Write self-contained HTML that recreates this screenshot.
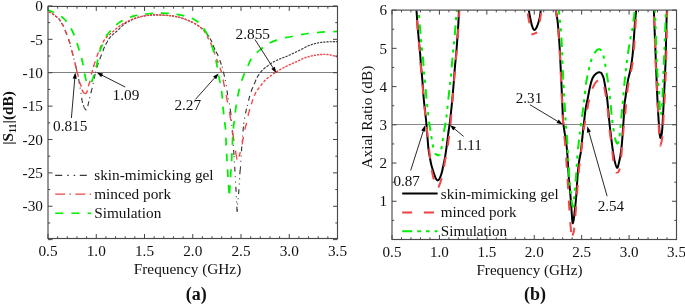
<!DOCTYPE html>
<html><head><meta charset="utf-8"><style>
html,body{margin:0;padding:0;background:#fff;}
svg{display:block;font-family:"Liberation Serif", serif;will-change:transform;}
.tk{stroke:#444;stroke-width:1;}
.ax{fill:none;stroke:#4a4a4a;stroke-width:1.15;}
text{fill:#111;}
</style></head><body>
<svg width="685" height="305" viewBox="0 0 685 305">
<line x1="48.0" y1="72.5" x2="337.5" y2="72.5" stroke="#808080" stroke-width="1"/>
<line x1="392.0" y1="124.5" x2="676.5" y2="124.5" stroke="#888" stroke-width="1"/>
<defs><clipPath id="cl"><rect x="47.9" y="6.4" width="289.4" height="232"/></clipPath><clipPath id="cr"><rect x="392.2" y="10.5" width="284.3" height="228.6"/></clipPath></defs>
<g clip-path="url(#cl)" fill="none" stroke-linejoin="round"><path d="M48.92,11.70L48.94,11.71L49.08,11.78L49.22,11.85L49.36,11.92L49.51,11.99L49.66,12.06L49.81,12.14L49.96,12.22L50.12,12.29L50.27,12.37L50.43,12.46L50.58,12.54L50.74,12.62L50.89,12.70L51.04,12.79L51.05,12.80M52.11,13.44L52.16,13.48L52.30,13.57L52.43,13.66L52.57,13.75L52.70,13.85L52.84,13.95L52.97,14.05L53.11,14.15L53.24,14.26L53.38,14.36L53.51,14.46L53.64,14.57L53.78,14.68L53.91,14.78L54.05,14.89L54.18,14.99L54.21,15.02M55.19,15.82L55.20,15.82L55.33,15.92L55.45,16.02L55.57,16.12L55.68,16.21L55.80,16.30L55.91,16.39L56.03,16.47L56.14,16.55L56.25,16.63L56.35,16.71L56.46,16.78L56.56,16.86L56.67,16.93L56.77,17.00L56.87,17.07L56.97,17.13L57.07,17.20L57.17,17.27L57.27,17.34L57.36,17.41M58.57,18.45L58.60,18.48L58.70,18.59L58.80,18.70L58.90,18.82L59.00,18.94L59.10,19.07L59.20,19.20L59.30,19.34L59.40,19.48L59.50,19.63L59.60,19.78L59.71,19.93L59.81,20.09L59.91,20.24L60.01,20.40L60.11,20.56L60.21,20.72L60.31,20.89L60.41,21.05L60.51,21.21L60.52,21.22M61.53,22.92L61.53,22.93L61.62,23.07L61.70,23.20L61.78,23.33L61.86,23.46L61.94,23.58L62.01,23.70L62.09,23.82L62.16,23.93L62.23,24.05L62.31,24.16L62.38,24.27L62.44,24.38L62.51,24.48L62.58,24.59L62.65,24.70L62.71,24.80L62.77,24.91L62.84,25.01L62.90,25.12L62.96,25.22L63.03,25.33L63.09,25.43L63.15,25.54L63.21,25.65L63.27,25.76L63.33,25.87L63.39,25.99L63.46,26.11L63.52,26.22L63.58,26.35L63.64,26.47L63.67,26.54M64.97,29.87L65.02,30.00L65.09,30.19L65.16,30.38L65.24,30.58L65.32,30.78L65.40,31.00L65.49,31.22L65.58,31.45L65.67,31.69L65.77,31.94L65.87,32.19L65.98,32.45L66.09,32.71L66.20,32.98L66.31,33.25L66.42,33.53L66.54,33.82L66.66,34.11L66.78,34.40L66.82,34.52M68.53,38.98L68.58,39.15L68.69,39.47L68.80,39.80L68.91,40.13L69.01,40.47L69.12,40.81L69.23,41.16L69.33,41.52L69.44,41.88L69.55,42.25L69.65,42.62L69.76,42.99L69.87,43.37L69.97,43.74L69.98,43.77M66.82,34.52L66.90,34.70L67.02,35.00L67.04,35.05M71.86,50.83L71.88,50.91L71.96,51.21L72.04,51.50L72.12,51.79L72.20,52.08L72.27,52.36L72.34,52.63L72.42,52.91L72.49,53.18L72.56,53.44L72.62,53.70L72.69,53.96L72.76,54.22L72.82,54.47L72.89,54.72L72.95,54.97L73.01,55.21L73.08,55.46L73.13,55.67M70.53,45.81L70.59,46.03L70.69,46.41L70.79,46.77M75.12,63.66L75.15,63.77L75.20,63.97L75.25,64.18L75.30,64.39L75.35,64.59L75.40,64.80L75.45,65.01L75.50,65.21L75.55,65.41L75.60,65.61L75.64,65.81L75.69,66.00L75.74,66.20L75.78,66.39L75.83,66.59L75.87,66.78L75.92,66.97L75.96,67.16L76.01,67.35L76.05,67.54L76.10,67.73L76.15,67.92L76.19,68.11L76.24,68.30L76.28,68.50L76.29,68.52M73.88,58.61L73.92,58.77L73.98,59.00L74.03,59.23L74.09,59.46L74.12,59.58M78.66,78.93L78.66,78.96L78.72,79.27L78.77,79.59L78.82,79.91L78.88,80.24L78.93,80.57L78.98,80.91L79.04,81.25L79.09,81.58L79.14,81.92L79.19,82.26L79.25,82.60L79.30,82.94L79.35,83.27L79.40,83.60L79.44,83.87M77.58,73.85L77.59,73.89L77.65,74.11L77.70,74.33L77.76,74.56L77.81,74.78L77.82,74.82M76.35,68.80L76.37,68.88L76.42,69.08L76.46,69.27L76.51,69.47L76.56,69.67L76.58,69.77M81.68,97.94L81.71,98.14L81.76,98.50L81.82,98.85L81.87,99.19L81.92,99.53L81.98,99.86L82.03,100.18L82.09,100.49L82.14,100.78L82.19,101.07L82.25,101.34L82.30,101.60L82.35,101.85L82.41,102.09L82.46,102.32L82.52,102.54L82.57,102.76L82.59,102.85M80.95,92.79L80.97,92.90L81.01,93.21L81.06,93.53L81.09,93.78M80.05,87.67L80.08,87.83L80.11,88.00L80.14,88.16L80.17,88.32L80.20,88.46L80.22,88.61L80.23,88.65M83.38,105.30L83.42,105.41L83.48,105.55L83.53,105.70L83.59,105.84L83.65,105.98L83.71,106.12L83.77,106.26L83.83,106.39L83.88,106.53L83.94,106.66L84.00,106.80L84.06,106.93L84.12,107.07L84.18,107.20L84.24,107.33L84.30,107.45L84.36,107.58L84.42,107.70L84.48,107.82L84.55,107.94L84.61,108.06L84.67,108.17L84.73,108.28L84.79,108.39L84.86,108.50L84.92,108.60L84.98,108.70L85.04,108.80L85.10,108.89L85.17,108.98L85.23,109.06L85.29,109.14L85.35,109.22L85.41,109.30L85.46,109.37L85.52,109.43L85.58,109.50L85.64,109.55L85.69,109.61L85.75,109.66L85.75,109.66M87.85,106.18L87.88,106.04L87.91,105.85L87.94,105.65L87.97,105.46L88.01,105.26L88.04,105.07L88.08,104.87L88.12,104.68L88.16,104.49L88.20,104.30L88.24,104.11L88.28,103.92L88.33,103.73L88.37,103.54L88.42,103.35L88.46,103.15L88.51,102.96L88.55,102.76L88.60,102.57L88.64,102.37L88.69,102.17L88.74,101.96L88.79,101.76L88.84,101.56L88.89,101.35L88.90,101.29M85.75,109.66L85.80,109.70L85.85,109.74L85.91,109.78L85.96,109.81L86.01,109.85L86.06,109.88L86.11,109.90L86.16,109.93L86.21,109.95L86.26,109.97L86.31,109.98L86.36,109.99L86.41,110.00L86.46,110.00L86.50,110.00L86.54,110.00M90.87,93.19L90.92,93.01L90.99,92.72L91.06,92.43L91.13,92.15L91.20,91.87L91.26,91.60L91.33,91.32L91.40,91.06L91.46,90.79L91.52,90.54L91.58,90.28L91.64,90.04L91.70,89.80L91.76,89.57L91.81,89.34L91.86,89.12L91.92,88.91L91.97,88.70L92.02,88.49L92.06,88.33M89.64,98.24L89.64,98.24L89.70,98.00L89.76,97.76L89.82,97.50L89.88,97.27M94.14,78.73L94.18,78.53L94.23,78.31L94.27,78.08L94.32,77.86L94.36,77.64L94.41,77.42L94.45,77.21L94.50,77.00L94.54,76.80L94.59,76.60L94.63,76.40L94.67,76.21L94.71,76.02L94.76,75.83L94.80,75.65L94.84,75.47L94.88,75.29L94.91,75.12L94.95,74.94L94.99,74.77L95.03,74.60L95.07,74.43L95.11,74.26L95.15,74.08L95.19,73.91L95.21,73.84M93.12,83.83L93.15,83.68L93.19,83.47L93.24,83.24L93.29,83.02L93.32,82.85M92.06,88.33L92.07,88.29L92.12,88.09L92.16,87.91M96.85,67.63L96.85,67.61L96.92,67.37L96.99,67.13L97.06,66.89L97.13,66.65L97.21,66.41L97.28,66.16L97.35,65.92L97.42,65.68L97.50,65.44L97.57,65.21L97.65,64.97L97.72,64.73L97.80,64.50L97.88,64.27L97.95,64.04L98.03,63.81L98.11,63.58L98.19,63.36L98.27,63.13L98.35,62.91L98.36,62.86M95.50,72.65L95.54,72.49L95.59,72.30L95.64,72.10L95.69,71.91L95.75,71.71L95.75,71.68M99.76,59.18L99.82,59.02L99.91,58.78L100.01,58.53L100.10,58.28L100.20,58.02L100.30,57.76L100.40,57.50L100.50,57.23L100.60,56.96L100.71,56.67L100.82,56.39L100.93,56.09L101.04,55.79L101.15,55.49L101.26,55.18L101.38,54.88L101.49,54.56L101.52,54.49M102.74,51.25L102.79,51.11L102.91,50.81L103.02,50.51L103.14,50.22L103.25,49.93L103.37,49.65L103.48,49.38L103.59,49.11L103.69,48.85L103.80,48.60L103.90,48.36L104.01,48.12L104.11,47.88L104.21,47.66L104.31,47.43L104.41,47.21L104.51,47.00L104.61,46.79L104.67,46.65M105.63,44.70L105.65,44.66L105.74,44.48L105.84,44.30L105.93,44.12L106.03,43.95L106.12,43.77L106.22,43.59L106.31,43.41L106.41,43.24L106.50,43.06L106.60,42.88L106.70,42.70L106.80,42.52L106.90,42.34L106.99,42.17L107.09,41.99L107.18,41.81L107.28,41.64L107.37,41.47L107.47,41.30L107.56,41.12L107.66,40.96L107.75,40.79L107.83,40.66M108.71,39.19L108.73,39.16L108.83,39.01L108.94,38.85L109.04,38.70L109.15,38.55L109.25,38.40L109.36,38.24L109.47,38.10L109.59,37.95L109.70,37.80L109.82,37.65L109.93,37.51L110.05,37.37L110.17,37.23L110.30,37.09L110.42,36.95L110.55,36.81L110.67,36.68L110.80,36.54L110.93,36.41L110.98,36.36M111.97,35.40L111.99,35.38L112.12,35.25L112.26,35.13L112.39,35.00L112.53,34.88L112.66,34.75L112.80,34.63L112.93,34.51L113.07,34.39L113.20,34.27L113.34,34.14L113.47,34.02L113.60,33.90L113.73,33.78L113.87,33.66L114.00,33.54L114.13,33.42L114.13,33.42M115.14,32.57L115.22,32.51L115.36,32.40L115.49,32.29L115.63,32.17L115.77,32.06L115.90,31.95L116.04,31.84L116.17,31.73L116.31,31.62L116.44,31.51L116.57,31.40L116.71,31.29L116.84,31.18L116.97,31.07L117.10,30.95L117.22,30.84L117.29,30.78M118.33,29.78L118.42,29.69L118.53,29.57L118.65,29.45L118.76,29.34L118.87,29.22L118.97,29.10L119.08,28.98L119.19,28.87L119.30,28.75L119.41,28.63L119.52,28.52L119.63,28.40L119.73,28.28L119.84,28.16L119.95,28.05L120.07,27.93L120.18,27.81L120.29,27.70L120.41,27.58L120.44,27.54M121.43,26.60L121.50,26.54L121.62,26.42L121.75,26.30L121.87,26.19L122.00,26.07L122.12,25.95L122.25,25.83L122.38,25.72L122.51,25.60L122.64,25.48L122.77,25.37L122.90,25.25L123.03,25.13L123.17,25.02L123.30,24.90L123.43,24.79L123.57,24.68L123.60,24.66M124.56,23.91L124.56,23.91L124.70,23.81L124.85,23.70L125.00,23.60L125.15,23.50L125.31,23.40L125.46,23.30L125.62,23.20L125.78,23.10L125.94,23.01L126.11,22.91L126.27,22.82L126.44,22.73L126.61,22.63L126.75,22.56M127.75,22.04L127.81,22.00L127.99,21.92L128.16,21.83L128.33,21.74L128.51,21.66L128.68,21.57L128.85,21.49L129.02,21.40L129.18,21.32L129.35,21.23L129.52,21.15L129.68,21.07L129.84,20.98L129.90,20.95M130.91,20.41L130.92,20.40L131.07,20.32L131.22,20.24L131.37,20.16L131.52,20.08L131.67,20.00L131.81,19.92L131.96,19.84L132.10,19.76L132.25,19.68L132.40,19.60L132.54,19.53L132.69,19.45L132.83,19.37L132.98,19.30L133.06,19.26M134.04,18.79L134.19,18.73L134.34,18.67L134.50,18.60L134.66,18.54L134.82,18.47L134.98,18.41L135.14,18.35L135.31,18.29L135.47,18.23L135.64,18.17L135.80,18.11L135.97,18.05L136.14,18.00L136.21,17.97M137.22,17.65L137.32,17.62L137.49,17.57L137.66,17.52L137.83,17.47L138.00,17.42L138.17,17.37L138.34,17.32L138.50,17.28L138.67,17.23L138.84,17.18L139.01,17.14L139.17,17.09L139.34,17.05L139.37,17.04M140.37,16.76L140.46,16.74L140.61,16.70L140.77,16.66L140.93,16.62L141.08,16.58L141.24,16.54L141.39,16.50L141.55,16.47L141.70,16.43L141.86,16.39L142.01,16.36L142.17,16.32L142.32,16.29L142.48,16.25L142.52,16.24M143.52,16.04L143.62,16.02L143.78,15.99L143.95,15.96L144.13,15.93L144.30,15.90L144.48,15.87L144.66,15.84L144.84,15.81L145.02,15.78L145.21,15.76L145.39,15.73L145.58,15.70L145.67,15.69M146.68,15.56L146.74,15.55L146.94,15.52L147.14,15.50L147.33,15.48L147.53,15.45L147.73,15.43L147.92,15.41L148.12,15.39L148.31,15.37L148.51,15.35L148.70,15.33L148.83,15.31M149.84,15.22L150.00,15.20L150.18,15.18L150.35,15.17L150.53,15.15L150.70,15.14L150.87,15.12L151.04,15.11L151.21,15.09L151.38,15.08L151.55,15.07L151.72,15.06L151.88,15.04L151.98,15.04M152.99,14.97L153.03,14.97L153.20,14.96L153.36,14.96L153.52,14.95L153.68,14.94L153.85,14.93L154.01,14.93L154.17,14.92L154.34,14.92L154.50,14.91L154.67,14.91L154.83,14.90L155.00,14.90L155.14,14.90M156.15,14.89L156.17,14.89L156.33,14.89L156.50,14.89L156.67,14.90L156.83,14.90L157.00,14.90L157.17,14.90L157.33,14.91L157.50,14.91L157.67,14.92L157.83,14.92L158.00,14.93L158.17,14.93L158.29,14.94M159.30,14.97L159.33,14.97L159.50,14.98L159.67,14.99L159.83,14.99L160.00,15.00L160.17,15.01L160.33,15.01L160.50,15.02L160.66,15.03L160.83,15.04L160.99,15.05L161.16,15.05L161.32,15.06L161.44,15.07M162.45,15.13L162.47,15.13L162.63,15.14L162.80,15.15L162.96,15.16L163.13,15.17L163.30,15.19L163.46,15.20L163.63,15.21L163.80,15.22L163.97,15.23L164.14,15.24L164.31,15.25L164.48,15.27L164.60,15.27M165.61,15.34L165.72,15.35L165.90,15.36L166.08,15.37L166.27,15.38L166.46,15.39L166.64,15.40L166.83,15.41L167.02,15.43L167.21,15.44L167.40,15.45L167.59,15.46L167.75,15.47M168.76,15.54L168.91,15.55L169.09,15.57L169.27,15.58L169.46,15.60L169.64,15.61L169.81,15.63L169.99,15.65L170.16,15.66L170.33,15.68L170.50,15.70L170.67,15.72L170.83,15.74L170.91,15.75M171.92,15.88L172.07,15.90L172.22,15.92L172.36,15.94L172.51,15.96L172.65,15.98L172.80,16.01L172.94,16.03L173.09,16.05L173.23,16.08L173.38,16.10L173.52,16.13L173.67,16.15L173.81,16.18L173.96,16.20L174.06,16.22M175.07,16.41L175.15,16.43L175.31,16.46L175.46,16.49L175.62,16.53L175.78,16.56L175.93,16.59L176.09,16.63L176.25,16.66L176.41,16.69L176.57,16.73L176.73,16.77L176.88,16.80L177.04,16.84L177.20,16.88L177.21,16.88M178.23,17.12L178.31,17.14L178.47,17.18L178.63,17.22L178.78,17.26L178.94,17.30L179.09,17.34L179.25,17.38L179.40,17.42L179.55,17.46L179.70,17.50L179.85,17.54L180.00,17.58L180.14,17.62L180.29,17.66L180.37,17.68M181.38,17.96L181.42,17.98L181.56,18.02L181.70,18.06L181.84,18.10L181.98,18.14L182.12,18.18L182.26,18.23L182.40,18.27L182.54,18.31L182.69,18.36L182.83,18.41L182.97,18.45L183.11,18.50L183.26,18.55L183.40,18.60L183.52,18.63M184.54,18.99L184.62,19.02L184.78,19.08L184.94,19.14L185.10,19.20L185.27,19.27L185.43,19.33L185.59,19.39L185.76,19.46L185.92,19.52L186.09,19.59L186.25,19.65L186.42,19.72L186.58,19.79L186.68,19.82M187.69,20.24L187.72,20.25L187.88,20.32L188.04,20.38L188.20,20.45L188.35,20.51L188.50,20.57L188.65,20.64L188.80,20.70L188.95,20.76L189.09,20.82L189.23,20.88L189.37,20.94L189.51,21.00L189.65,21.06L189.79,21.12L189.83,21.14M190.85,21.58L190.86,21.58L190.99,21.64L191.12,21.70L191.25,21.76L191.37,21.81L191.50,21.87L191.63,21.93L191.76,21.99L191.89,22.05L192.02,22.12L192.15,22.18L192.28,22.24L192.41,22.30L192.54,22.37L192.67,22.43L192.80,22.50L192.93,22.57L192.98,22.59M194.01,23.13L194.13,23.20L194.26,23.27L194.40,23.35L194.53,23.42L194.66,23.49L194.79,23.57L194.93,23.64L195.06,23.72L195.19,23.79L195.32,23.87L195.45,23.94L195.58,24.02L195.71,24.10L195.83,24.17L195.96,24.25L196.09,24.32L196.14,24.35M197.17,25.00L197.17,25.00L197.28,25.07L197.40,25.14L197.51,25.22L197.62,25.29L197.73,25.36L197.84,25.43L197.95,25.51L198.05,25.58L198.16,25.65L198.27,25.73L198.38,25.80L198.48,25.87L198.59,25.95L198.69,26.02L198.80,26.10L198.91,26.18L199.01,26.26L199.12,26.33L199.23,26.41L199.29,26.46M200.32,27.25L200.34,27.27L200.46,27.36L200.57,27.45L200.69,27.54L200.81,27.63L200.92,27.72L201.04,27.82L201.16,27.91L201.28,28.01L201.40,28.10L201.51,28.20L201.63,28.30L201.75,28.39L201.87,28.49L201.99,28.59L202.10,28.69L202.22,28.80L202.34,28.90L202.45,28.99M203.53,30.03L203.61,30.12L203.72,30.24L203.84,30.35L203.95,30.47L204.06,30.59L204.17,30.72L204.28,30.84L204.38,30.96L204.49,31.09L204.60,31.21L204.71,31.34L204.82,31.47L204.92,31.60L205.03,31.73L205.14,31.86L205.25,32.00L205.35,32.13L205.46,32.27L205.57,32.40L205.60,32.44M206.60,33.74L206.68,33.85L206.80,34.00L206.92,34.15L207.03,34.30L207.15,34.45L207.27,34.60L207.39,34.75L207.51,34.90L207.63,35.05L207.75,35.20L207.87,35.35L208.00,35.50L208.12,35.65L208.24,35.81L208.36,35.96L208.49,36.12L208.61,36.28L208.74,36.44L208.75,36.47M209.95,38.22L209.99,38.30L210.12,38.52L210.25,38.74L210.37,38.97L210.50,39.20L210.63,39.44L210.75,39.70L210.88,39.96L211.01,40.23L211.14,40.50L211.27,40.79L211.40,41.08L211.53,41.38L211.66,41.68L211.79,41.99L211.91,42.28M213.05,45.11L213.09,45.21L213.22,45.54L213.35,45.86L213.49,46.18L213.62,46.49L213.75,46.81L213.88,47.12L214.01,47.42L214.14,47.72L214.27,48.01L214.40,48.30L214.53,48.58L214.66,48.86L214.79,49.13L214.92,49.40L215.06,49.67L215.06,49.68M216.01,51.52L216.12,51.74L216.25,51.99L216.39,52.24L216.52,52.50L216.65,52.75L216.78,53.00L216.91,53.26L217.04,53.51L217.17,53.77L217.30,54.03L217.43,54.29L217.56,54.56L217.68,54.82L217.81,55.09L217.93,55.36L218.06,55.64L218.18,55.92L218.22,56.00M219.75,59.98L219.75,59.98L219.87,60.31L219.98,60.65L220.10,60.98L220.21,61.30L220.33,61.63L220.44,61.95L220.55,62.27L220.66,62.59L220.76,62.90L220.86,63.21L220.97,63.51L221.06,63.80L221.16,64.09L221.25,64.37L221.35,64.64L221.37,64.71M223.39,71.72L223.40,71.73L223.48,72.06L223.56,72.41L223.64,72.77L223.73,73.13L223.82,73.51L223.91,73.89L224.00,74.28L224.09,74.68L224.18,75.08L224.28,75.49L224.37,75.90L224.46,76.32L224.52,76.59M222.04,66.70L222.05,66.73L222.10,66.88L222.15,67.02L222.19,67.16L222.24,67.29L222.28,67.41L222.32,67.54L222.35,67.65M226.93,90.33L226.94,90.42L227.01,90.87L227.07,91.32L227.13,91.76L227.20,92.20L227.26,92.62L227.32,93.05L227.39,93.46L227.45,93.87L227.51,94.27L227.57,94.65L227.64,95.03L227.68,95.27M226.18,85.18L226.21,85.36L226.28,85.82L226.33,86.17M225.27,80.06L225.29,80.18L225.37,80.61L225.46,81.04L225.46,81.05M230.20,108.61L230.21,108.73L230.24,108.95L230.27,109.18L230.30,109.40L230.33,109.63L230.35,109.85L230.38,110.08L230.41,110.31L230.44,110.54L230.47,110.77L230.50,111.00L230.53,111.23L230.56,111.45L230.59,111.67L230.62,111.89L230.64,112.10L230.67,112.30L230.70,112.51L230.72,112.71L230.75,112.91L230.77,113.11L230.80,113.31L230.82,113.51L230.83,113.57M229.40,103.47L229.40,103.48L229.45,103.74L229.50,104.00L229.55,104.26L229.58,104.46M228.29,98.39L228.34,98.66L228.41,98.95L228.47,99.24L228.50,99.37M233.61,150.03L233.62,150.14L233.64,150.40L233.65,150.66L233.67,150.92L233.69,151.18L233.71,151.44L233.73,151.69L233.75,151.95L233.76,152.20L233.78,152.45L233.80,152.70L233.82,152.95L233.84,153.18L233.85,153.42L233.87,153.64L233.89,153.86L233.91,154.07L233.92,154.28L233.94,154.48L233.96,154.68L233.97,154.88L233.99,155.02M233.26,144.84L233.27,145.05L233.30,145.39L233.32,145.73L233.33,145.84M232.90,139.66L232.93,139.99L232.96,140.42L232.97,140.65M232.23,130.08L232.24,130.12L232.27,130.56L232.30,131.00L232.33,131.44L232.36,131.88L232.40,132.32L232.43,132.77L232.46,133.22L232.49,133.67L232.52,134.12L232.55,134.58L232.59,135.04L232.59,135.07M231.85,124.89L231.86,125.05L231.90,125.51L231.93,125.89M231.45,119.71L231.46,119.82L231.49,120.22L231.52,120.62L231.53,120.71M230.83,113.57L230.85,113.71L230.87,113.92L230.90,114.12L230.93,114.34L230.95,114.55L230.98,114.77L231.00,114.99L231.02,115.13M236.86,206.64L236.87,206.69L236.87,206.96L236.88,207.25L236.89,207.54L236.90,207.83L236.91,208.12L236.92,208.40L236.93,208.69L236.94,208.97L236.95,209.24L236.96,209.51L236.97,209.76L236.98,210.01L236.99,210.24L237.00,210.46L237.01,210.66L237.02,210.84L237.03,211.01L237.04,211.15L237.05,211.27L237.06,211.37L237.07,211.44L237.09,211.48L237.10,211.50L237.11,211.49L237.13,211.45L237.14,211.39M236.58,201.44L236.59,201.60L236.60,201.76L236.61,201.92L236.62,202.07L236.63,202.23L236.64,202.38L236.64,202.44M236.34,196.25L236.35,196.32L236.36,196.56L236.37,196.81L236.38,197.05L236.38,197.25M235.78,186.67L235.78,186.75L235.80,187.00L235.81,187.25L235.83,187.49L235.84,187.72L235.86,187.94L235.87,188.16L235.89,188.38L235.90,188.58L235.92,188.79L235.93,188.99L235.94,189.19L235.96,189.38L235.97,189.57L235.99,189.76L236.00,189.94L236.01,190.12L236.03,190.31L236.04,190.49L236.05,190.67L236.06,190.85L236.08,191.04L236.09,191.22L236.10,191.41L236.12,191.59L236.12,191.66M235.49,181.48L235.49,181.50L235.50,181.82L235.52,182.13L235.54,182.44L235.54,182.47M235.21,176.28L235.22,176.38L235.23,176.71L235.25,177.04L235.26,177.28M234.73,166.69L234.73,166.73L234.75,167.05L234.77,167.37L234.78,167.68L234.80,168.00L234.82,168.32L234.83,168.64L234.85,168.96L234.87,169.29L234.88,169.62L234.90,169.95L234.92,170.29L234.93,170.62L234.95,170.96L234.97,171.30L234.98,171.64L234.99,171.69M234.45,161.50L234.47,161.76L234.48,162.06L234.50,162.36L234.51,162.50M234.10,156.31L234.10,156.40L234.12,156.59L234.14,156.79L234.15,156.99L234.17,157.19L234.18,157.31M239.83,174.16L239.84,173.93L239.86,173.65L239.88,173.37L239.90,173.10L239.92,172.84L239.94,172.58L239.96,172.33L239.98,172.08L240.01,171.84L240.03,171.61L240.05,171.38L240.07,171.15L240.10,170.93L240.12,170.71L240.15,170.49L240.17,170.28L240.19,170.06L240.22,169.84L240.24,169.63L240.27,169.41L240.29,169.19L240.29,169.18M239.54,179.35L239.54,179.34L239.56,179.04L239.57,178.73L239.59,178.42L239.59,178.35M239.25,184.54L239.26,184.47L239.27,184.20L239.29,183.93L239.30,183.66L239.31,183.54M238.55,194.11L238.56,194.06L238.58,193.79L238.61,193.52L238.63,193.25L238.65,192.98L238.68,192.70L238.70,192.43L238.73,192.16L238.75,191.89L238.77,191.62L238.79,191.34L238.82,191.07L238.84,190.80L238.86,190.54L238.88,190.27L238.90,190.00L238.92,189.73L238.94,189.47L238.96,189.20L238.96,189.13M238.09,199.29L238.09,199.23L238.11,198.99L238.14,198.74L238.16,198.50L238.17,198.30M237.64,204.47L237.66,204.32L237.67,204.10L237.69,203.87L237.71,203.65L237.73,203.48M237.14,211.39L237.14,211.38L237.16,211.29L237.17,211.17L237.19,211.04L237.20,210.89L237.22,210.71L237.23,210.52L237.25,210.31L237.26,210.09L237.28,209.86L237.30,209.61L237.31,209.36L237.33,209.09L237.33,209.06M242.99,131.43L243.00,131.41L243.02,131.09L243.05,130.78L243.08,130.46L243.10,130.15L243.13,129.85L243.16,129.54L243.19,129.24L243.21,128.94L243.24,128.65L243.27,128.36L243.29,128.07L243.32,127.79L243.34,127.51L243.37,127.24L243.40,126.97L243.42,126.71L243.45,126.45L243.45,126.45M242.56,136.61L242.56,136.56L242.59,136.19L242.62,135.81L242.64,135.61M242.15,141.79L242.16,141.62L242.19,141.23L242.22,140.84L242.22,140.80M241.44,151.37L241.44,151.32L241.46,151.00L241.49,150.67L241.51,150.35L241.53,150.03L241.55,149.70L241.58,149.38L241.60,149.05L241.62,148.72L241.65,148.40L241.67,148.07L241.70,147.74L241.72,147.40L241.75,147.07L241.77,146.73L241.80,146.39L241.80,146.38M241.11,156.56L241.12,156.44L241.14,156.07L241.16,155.71L241.17,155.56M240.84,161.75L240.86,161.39L240.88,161.01L240.89,160.75M240.29,169.18L240.32,168.96L240.34,168.74L240.37,168.51L240.39,168.28L240.42,168.04L240.44,167.80L240.46,167.55L240.49,167.29L240.51,167.03L240.53,166.76L240.56,166.48L240.57,166.34M245.54,113.47L245.56,113.38L245.60,113.19L245.64,113.00L245.67,112.81L245.71,112.62L245.75,112.42L245.79,112.23L245.83,112.04L245.87,111.85L245.91,111.66L245.95,111.47L245.99,111.28L246.03,111.08L246.07,110.89L246.11,110.70L246.15,110.51L246.20,110.32L246.24,110.13L246.28,109.94L246.32,109.75L246.37,109.56L246.41,109.37L246.46,109.19L246.50,109.00L246.55,108.81L246.59,108.63L246.60,108.59M244.58,118.58L244.60,118.43L244.64,118.24L244.67,118.06L244.70,117.88L244.74,117.69L244.75,117.60M243.75,123.72L243.76,123.63L243.79,123.46L243.81,123.30L243.83,123.14L243.85,122.98L243.87,122.83L243.89,122.73M248.60,100.77L248.63,100.67L248.67,100.46L248.71,100.26L248.75,100.05L248.80,99.85L248.84,99.65L248.88,99.45L248.92,99.25L248.97,99.05L249.01,98.86L249.05,98.67L249.09,98.48L249.13,98.30L249.17,98.12L249.22,97.94L249.26,97.77L249.30,97.60L249.34,97.44L249.38,97.27L249.42,97.12L249.46,96.96L249.50,96.81L249.54,96.66L249.58,96.51L249.62,96.37L249.66,96.23L249.70,96.09L249.74,95.95L249.76,95.91M247.37,105.82L247.40,105.72L247.45,105.54L247.50,105.36L247.56,105.17L247.61,104.99L247.64,104.86M251.07,91.74L251.09,91.69L251.13,91.56L251.17,91.44L251.22,91.31L251.26,91.18L251.30,91.06L251.35,90.93L251.39,90.81L251.44,90.68L251.48,90.56L251.53,90.44L251.57,90.31L251.62,90.19L251.66,90.07L251.71,89.94L251.75,89.82L251.80,89.70L251.85,89.58L251.89,89.46L251.94,89.34L251.99,89.22L252.04,89.10L252.09,88.98L252.14,88.86L252.19,88.74L252.24,88.62L252.29,88.50L252.34,88.39L252.39,88.27L252.44,88.15L252.49,88.04L252.54,87.92L252.60,87.80L252.65,87.69L252.70,87.57L252.75,87.46L252.80,87.34L252.85,87.23L252.90,87.11L252.91,87.09M254.14,84.22L254.18,84.12L254.23,84.01L254.28,83.91L254.32,83.80L254.37,83.69L254.42,83.58L254.46,83.47L254.51,83.35L254.56,83.24L254.60,83.13L254.65,83.01L254.70,82.90L254.75,82.78L254.80,82.67L254.85,82.55L254.89,82.43L254.94,82.31L254.99,82.19L255.04,82.07L255.09,81.95L255.14,81.82L255.19,81.70L255.24,81.58L255.29,81.45L255.34,81.33L255.39,81.21L255.44,81.08L255.49,80.96L255.54,80.83L255.60,80.71L255.65,80.59L255.70,80.47L255.75,80.35L255.80,80.22L255.85,80.11L255.90,79.99L255.95,79.87L256.00,79.75L256.05,79.64L256.06,79.60M256.93,77.74L256.97,77.66L257.02,77.56L257.06,77.46L257.11,77.37L257.16,77.27L257.21,77.17L257.26,77.08L257.32,76.98L257.37,76.88L257.42,76.79L257.47,76.69L257.53,76.59L257.59,76.50L257.64,76.40L257.70,76.30L257.76,76.20L257.82,76.10L257.88,76.01L257.94,75.91L258.00,75.81L258.06,75.71L258.13,75.61L258.19,75.52L258.25,75.42L258.32,75.32L258.38,75.23L258.45,75.13L258.52,75.03L258.58,74.93L258.65,74.84L258.72,74.74L258.79,74.64L258.85,74.55L258.92,74.45L258.99,74.36L259.06,74.26L259.13,74.16L259.20,74.07L259.22,74.05M260.17,72.78L260.20,72.74L260.27,72.65L260.35,72.55L260.42,72.46L260.49,72.37L260.56,72.27L260.64,72.18L260.71,72.09L260.79,71.99L260.86,71.90L260.94,71.81L261.02,71.72L261.09,71.62L261.17,71.53L261.25,71.44L261.33,71.34L261.41,71.25L261.49,71.16L261.57,71.07L261.66,70.97L261.74,70.88L261.83,70.79L261.91,70.69L262.00,70.60L262.09,70.51L262.18,70.41L262.27,70.32L262.36,70.22L262.37,70.21M263.34,69.27L263.35,69.25L263.46,69.16L263.56,69.06L263.66,68.96L263.77,68.87L263.87,68.78L263.97,68.68L264.08,68.59L264.18,68.50L264.29,68.41L264.39,68.32L264.49,68.23L264.59,68.14L264.70,68.05L264.80,67.97L264.90,67.88L265.00,67.80L265.10,67.72L265.20,67.64L265.30,67.57L265.39,67.49L265.49,67.42L265.53,67.39M266.54,66.69L266.64,66.63L266.74,66.56L266.83,66.50L266.93,66.43L267.03,66.37L267.14,66.30L267.24,66.23L267.34,66.16L267.45,66.09L267.55,66.01L267.66,65.94L267.77,65.86L267.89,65.78L268.00,65.70L268.11,65.62L268.23,65.53L268.34,65.44L268.46,65.35L268.57,65.26L268.68,65.18M269.66,64.39L269.77,64.31L269.89,64.21L270.02,64.11L270.15,64.01L270.28,63.90L270.42,63.80L270.55,63.70L270.69,63.60L270.83,63.50L270.98,63.40L271.12,63.30L271.27,63.20L271.42,63.10L271.58,63.00L271.74,62.90L271.83,62.84M272.83,62.27L272.97,62.19L273.16,62.09L273.36,61.98L273.55,61.88L273.76,61.77L273.96,61.66L274.16,61.56L274.37,61.45L274.58,61.35L274.79,61.24L274.99,61.14M275.99,60.65L276.04,60.63L276.25,60.53L276.45,60.43L276.65,60.34L276.85,60.24L277.05,60.15L277.24,60.06L277.43,59.97L277.62,59.88L277.80,59.80L277.98,59.72L278.14,59.64M279.14,59.21L279.18,59.19L279.34,59.12L279.50,59.06L279.67,58.99L279.83,58.92L279.99,58.86L280.15,58.79L280.31,58.73L280.46,58.67L280.62,58.61L280.78,58.54L280.94,58.48L281.10,58.42L281.25,58.36L281.30,58.34M282.30,57.96L282.37,57.93L282.54,57.86L282.70,57.80L282.87,57.74L283.03,57.67L283.20,57.61L283.36,57.54L283.53,57.48L283.70,57.42L283.86,57.36L284.03,57.29L284.20,57.23L284.37,57.17L284.45,57.14M285.46,56.77L285.54,56.74L285.71,56.68L285.88,56.61L286.04,56.55L286.21,56.49L286.38,56.43L286.54,56.36L286.71,56.30L286.88,56.23L287.04,56.17L287.21,56.10L287.37,56.04L287.54,55.97L287.60,55.94M288.62,55.50L288.67,55.48L288.83,55.41L288.99,55.34L289.15,55.27L289.31,55.20L289.47,55.12L289.62,55.05L289.78,54.98L289.94,54.90L290.10,54.83L290.26,54.76L290.42,54.68L290.58,54.61L290.73,54.53L290.76,54.52M291.77,54.05L291.85,54.01L292.01,53.93L292.17,53.85L292.34,53.78L292.50,53.70L292.66,53.62L292.83,53.55L292.99,53.47L293.16,53.39L293.32,53.31L293.49,53.23L293.65,53.16L293.82,53.08L293.91,53.03M294.92,52.55L294.99,52.52L295.16,52.44L295.32,52.36L295.49,52.28L295.66,52.20L295.83,52.11L295.99,52.03L296.16,51.95L296.33,51.87L296.50,51.79L296.66,51.71L296.83,51.63L297.00,51.54L297.07,51.51M298.08,51.02L298.16,50.97L298.33,50.89L298.50,50.81L298.66,50.73L298.83,50.65L298.99,50.57L299.16,50.49L299.32,50.40L299.49,50.32L299.65,50.24L299.82,50.16L299.98,50.07L300.15,49.99L300.22,49.96M301.23,49.45L301.31,49.41L301.48,49.32L301.65,49.24L301.82,49.15L301.99,49.06L302.16,48.98L302.33,48.89L302.50,48.80L302.67,48.71L302.84,48.62L303.02,48.53L303.19,48.44L303.36,48.34L303.37,48.33M304.38,47.77L304.40,47.76L304.57,47.66L304.75,47.56L304.92,47.47L305.10,47.37L305.28,47.27L305.45,47.17L305.63,47.08L305.81,46.98L305.99,46.89L306.16,46.79L306.34,46.70L306.52,46.60L306.53,46.60M307.52,46.13L307.62,46.08L307.80,46.00L307.99,45.92L308.17,45.84L308.36,45.76L308.55,45.69L308.74,45.61L308.92,45.54L309.11,45.47L309.31,45.39L309.50,45.32L309.68,45.25M310.68,44.90L310.85,44.85L311.05,44.78L311.24,44.72L311.44,44.66L311.63,44.59L311.83,44.53L312.03,44.47L312.22,44.41L312.42,44.35L312.62,44.29L312.81,44.23L312.84,44.22M313.84,43.93L313.99,43.89L314.19,43.83L314.39,43.78L314.59,43.72L314.79,43.67L314.99,43.62L315.19,43.56L315.39,43.51L315.59,43.46L315.79,43.41L315.99,43.36M316.99,43.12L317.00,43.12L317.20,43.07L317.40,43.03L317.60,42.99L317.80,42.94L318.00,42.90L318.20,42.86L318.40,42.82L318.60,42.78L318.80,42.74L319.00,42.70L319.14,42.68M320.15,42.51L320.19,42.51L320.39,42.48L320.59,42.45L320.79,42.42L320.98,42.40L321.18,42.37L321.38,42.35L321.57,42.33L321.77,42.31L321.97,42.29L322.16,42.27L322.30,42.26M323.31,42.17L323.34,42.16L323.54,42.15L323.73,42.13L323.93,42.12L324.13,42.10L324.32,42.09L324.52,42.07L324.71,42.06L324.91,42.04L325.11,42.03L325.30,42.01L325.45,42.00M326.46,41.93L326.48,41.93L326.68,41.92L326.87,41.90L327.07,41.89L327.26,41.88L327.46,41.87L327.65,41.86L327.85,41.84L328.05,41.83L328.24,41.82L328.44,41.81L328.61,41.80M329.61,41.76L329.62,41.76L329.81,41.75L330.01,41.74L330.21,41.74L330.41,41.73L330.60,41.72L330.80,41.72L331.00,41.71L331.20,41.71L331.40,41.70L331.60,41.70L331.76,41.69M332.77,41.68L332.94,41.68L333.17,41.68L333.41,41.68L333.64,41.68L333.88,41.68L334.12,41.68L334.35,41.68L334.59,41.68L334.82,41.68L334.91,41.68M335.74,41.69L335.91,41.69L336.11,41.69L336.31,41.69L336.49,41.69L336.67,41.70L336.83,41.70L336.99,41.70L337.14,41.70L337.27,41.70L337.39,41.70L337.50,41.70" stroke="#363636" stroke-width="1.15" stroke-linecap="butt"/><path d="M49.01,11.74L49.08,11.78L49.22,11.85L49.36,11.92L49.51,11.99L49.66,12.06L49.81,12.14L49.96,12.22L50.12,12.29L50.27,12.37L50.43,12.46L50.58,12.54L50.74,12.62L50.89,12.70L51.04,12.79L51.05,12.80M52.28,13.55L52.30,13.57L52.43,13.66L52.57,13.75L52.70,13.85L52.84,13.95L52.97,14.05L53.11,14.15L53.24,14.26L53.38,14.36L53.51,14.46L53.64,14.57L53.78,14.68L53.91,14.78L54.05,14.89L54.18,14.99L54.21,15.02M55.38,15.96L55.45,16.02L55.57,16.12L55.68,16.21L55.80,16.30L55.91,16.39L56.03,16.47L56.14,16.55L56.25,16.63L56.35,16.71L56.46,16.78L56.56,16.86L56.67,16.93L56.77,17.00L56.87,17.07L56.97,17.13L57.07,17.20L57.17,17.27L57.27,17.34L57.36,17.41M58.94,18.87L59.00,18.94L59.10,19.07L59.20,19.20L59.30,19.34L59.40,19.48L59.50,19.63L59.60,19.78L59.71,19.93L59.81,20.09L59.91,20.24L60.01,20.40L60.11,20.56L60.21,20.72L60.31,20.89L60.41,21.05L60.51,21.21L60.52,21.22M62.01,23.69L62.01,23.70L62.09,23.82L62.16,23.93L62.23,24.05L62.31,24.16L62.38,24.27L62.44,24.38L62.51,24.48L62.58,24.59L62.65,24.70L62.71,24.80L62.77,24.91L62.84,25.01L62.90,25.12L62.96,25.22L63.03,25.33L63.09,25.43L63.15,25.54L63.21,25.65L63.27,25.76L63.33,25.87L63.39,25.99L63.46,26.11L63.52,26.22L63.58,26.35L63.64,26.47L63.67,26.54M65.21,30.51L65.24,30.58L65.32,30.78L65.40,31.00L65.49,31.22L65.58,31.45L65.67,31.69L65.77,31.94L65.87,32.19L65.98,32.45L66.09,32.71L66.20,32.98L66.31,33.25L66.42,33.53L66.54,33.82L66.66,34.11L66.78,34.40L66.82,34.52M68.57,39.11L68.58,39.15L68.69,39.47L68.80,39.80L68.91,40.13L69.01,40.47L69.12,40.81L69.23,41.16L69.33,41.52L69.44,41.88L69.55,42.25L69.65,42.62L69.76,42.99L69.87,43.37L69.97,43.74L69.98,43.77M71.59,49.81L71.63,49.97L71.72,50.29L71.80,50.60L71.88,50.91L71.96,51.21L72.04,51.50L72.12,51.79L72.20,52.08L72.27,52.36L72.34,52.63L72.42,52.91L72.49,53.18L72.56,53.44L72.62,53.70L72.69,53.96L72.76,54.22L72.82,54.47L72.89,54.72L72.95,54.97L73.01,55.21L73.08,55.46L73.13,55.67M74.77,62.22L74.79,62.30L74.85,62.51L74.90,62.72L74.95,62.93L75.00,63.14L75.05,63.35L75.10,63.56L75.15,63.77L75.20,63.97L75.25,64.18L75.30,64.39L75.35,64.59L75.40,64.80L75.45,65.01L75.50,65.21L75.55,65.41L75.60,65.62L75.64,65.82L75.69,66.02L75.74,66.22L75.79,66.42L75.83,66.61L75.88,66.81L75.92,67.01L75.97,67.20L76.02,67.40L76.06,67.59L76.11,67.79L76.15,67.98L76.20,68.18L76.24,68.37L76.29,68.55M93.49,67.03L93.49,67.02L93.54,66.84L93.58,66.65L93.63,66.46L93.68,66.27L93.74,66.07L93.79,65.87L93.85,65.66L93.91,65.45L93.97,65.24L94.03,65.02L94.10,64.80L94.17,64.57L94.24,64.34L94.32,64.09L94.40,63.85L94.48,63.59L94.56,63.33L94.65,63.07L94.73,62.80L94.82,62.53L94.91,62.25L95.01,61.97L95.10,61.68L95.20,61.40L95.21,61.36M96.76,56.90L96.80,56.77L96.90,56.50L97.00,56.23L97.09,55.96L97.19,55.68L97.29,55.41L97.39,55.14L97.49,54.86L97.59,54.59L97.69,54.31L97.79,54.04L97.89,53.76L97.99,53.49L98.09,53.22L98.19,52.94L98.29,52.67L98.36,52.48M99.81,48.82L99.90,48.60L100.00,48.37L100.10,48.14L100.20,47.92L100.30,47.70L100.40,47.48L100.50,47.26L100.60,47.04L100.70,46.83L100.80,46.61L100.90,46.40L101.00,46.20L101.10,45.99L101.20,45.79L101.30,45.59L101.40,45.39L101.50,45.19L101.52,45.15M102.96,42.40L102.96,42.39L103.04,42.24L103.12,42.10L103.19,41.96L103.26,41.82L103.33,41.69L103.39,41.56L103.46,41.43L103.52,41.31L103.59,41.19L103.65,41.07L103.71,40.95L103.77,40.84L103.84,40.73L103.90,40.61L103.97,40.50L104.03,40.39L104.10,40.28L104.17,40.17L104.24,40.06L104.31,39.94L104.38,39.83L104.46,39.72L104.54,39.60L104.63,39.49L104.67,39.43M105.91,37.97L105.92,37.96L106.04,37.83L106.17,37.70L106.30,37.56L106.43,37.43L106.57,37.30L106.70,37.16L106.84,37.03L106.97,36.90L107.11,36.77L107.25,36.63L107.39,36.50L107.53,36.37L107.67,36.24L107.81,36.11L107.83,36.09M109.05,34.96L109.16,34.86L109.30,34.74L109.43,34.62L109.56,34.51L109.70,34.39L109.83,34.27L109.96,34.16L110.10,34.05L110.23,33.93L110.36,33.82L110.50,33.71L110.63,33.60L110.77,33.49L110.90,33.38L110.98,33.31M112.24,32.26L112.37,32.15L112.50,32.04L112.64,31.93L112.77,31.81L112.90,31.70L113.03,31.58L113.16,31.47L113.29,31.35L113.43,31.23L113.56,31.12L113.69,31.00L113.82,30.88L113.95,30.76L114.08,30.64L114.13,30.59M115.36,29.46L115.37,29.44L115.50,29.33L115.63,29.21L115.76,29.09L115.89,28.98L116.02,28.86L116.15,28.75L116.28,28.64L116.41,28.53L116.54,28.42L116.67,28.31L116.80,28.20L116.93,28.09L117.06,27.99L117.19,27.88L117.29,27.81M118.46,26.90L118.48,26.88L118.61,26.78L118.74,26.69L118.87,26.59L119.00,26.50L119.13,26.40L119.26,26.31L119.39,26.21L119.52,26.12L119.65,26.03L119.78,25.94L119.91,25.84L120.04,25.75L120.17,25.66L120.31,25.57L120.44,25.48L120.44,25.48M121.58,24.70L121.61,24.69L121.74,24.60L121.86,24.52L121.99,24.43L122.12,24.35L122.25,24.27L122.38,24.18L122.51,24.10L122.64,24.02L122.77,23.94L122.90,23.86L123.03,23.77L123.16,23.69L123.30,23.61L123.43,23.53L123.57,23.45L123.60,23.43M124.69,22.80L124.70,22.80L124.85,22.72L125.00,22.64L125.15,22.55L125.31,22.47L125.46,22.39L125.62,22.31L125.78,22.22L125.94,22.14L126.10,22.06L126.27,21.98L126.43,21.90L126.60,21.81L126.75,21.74M127.83,21.21L127.93,21.17L128.10,21.09L128.27,21.01L128.44,20.93L128.61,20.85L128.77,20.78L128.94,20.70L129.11,20.62L129.27,20.55L129.44,20.47L129.60,20.40L129.76,20.33L129.90,20.26M130.97,19.79L131.07,19.75L131.23,19.68L131.39,19.61L131.56,19.54L131.72,19.47L131.88,19.41L132.04,19.34L132.21,19.27L132.37,19.20L132.53,19.14L132.70,19.07L132.86,19.01L133.02,18.94L133.06,18.93M134.09,18.54L134.17,18.52L134.34,18.46L134.50,18.40L134.67,18.34L134.83,18.29L135.00,18.23L135.16,18.18L135.33,18.13L135.50,18.08L135.66,18.03L135.83,17.98L136.00,17.93L136.17,17.88L136.21,17.86M137.24,17.58L137.34,17.55L137.51,17.51L137.68,17.47L137.84,17.42L138.01,17.38L138.18,17.34L138.34,17.29L138.51,17.25L138.68,17.21L138.84,17.17L139.01,17.13L139.17,17.08L139.34,17.04L139.37,17.03M140.39,16.77L140.46,16.75L140.61,16.71L140.77,16.67L140.93,16.64L141.08,16.60L141.24,16.56L141.39,16.52L141.55,16.48L141.70,16.44L141.86,16.41L142.01,16.37L142.17,16.33L142.32,16.30L142.48,16.26L142.52,16.25M143.53,16.04L143.62,16.02L143.78,15.99L143.95,15.96L144.13,15.93L144.30,15.90L144.48,15.87L144.66,15.84L144.84,15.81L145.02,15.78L145.21,15.76L145.39,15.73L145.58,15.70L145.67,15.69M146.68,15.56L146.74,15.55L146.94,15.52L147.14,15.50L147.33,15.48L147.53,15.45L147.73,15.43L147.92,15.41L148.12,15.39L148.31,15.37L148.51,15.35L148.70,15.33L148.83,15.31M149.84,15.22L150.00,15.20L150.18,15.18L150.35,15.17L150.53,15.15L150.70,15.14L150.87,15.12L151.04,15.11L151.21,15.09L151.38,15.08L151.55,15.07L151.72,15.06L151.88,15.04L151.98,15.04M152.99,14.97L153.03,14.97L153.20,14.96L153.36,14.96L153.52,14.95L153.68,14.94L153.85,14.93L154.01,14.93L154.17,14.92L154.34,14.92L154.50,14.91L154.67,14.91L154.83,14.90L155.00,14.90L155.14,14.90M156.15,14.89L156.17,14.89L156.33,14.89L156.50,14.89L156.67,14.90L156.83,14.90L157.00,14.90L157.17,14.90L157.33,14.91L157.50,14.91L157.67,14.92L157.83,14.92L158.00,14.93L158.17,14.93L158.29,14.94M159.30,14.97L159.33,14.97L159.50,14.98L159.67,14.99L159.83,14.99L160.00,15.00L160.17,15.01L160.33,15.01L160.50,15.02L160.66,15.03L160.83,15.04L160.99,15.05L161.16,15.05L161.32,15.06L161.44,15.07M162.45,15.13L162.47,15.13L162.63,15.14L162.80,15.15L162.96,15.16L163.13,15.17L163.30,15.19L163.46,15.20L163.63,15.21L163.80,15.22L163.97,15.23L164.14,15.24L164.31,15.25L164.48,15.27L164.60,15.27M165.61,15.34L165.72,15.35L165.90,15.36L166.08,15.37L166.27,15.38L166.46,15.39L166.64,15.40L166.83,15.41L167.02,15.43L167.21,15.44L167.40,15.45L167.59,15.46L167.75,15.47M168.76,15.54L168.91,15.55L169.09,15.57L169.27,15.58L169.46,15.60L169.64,15.61L169.81,15.63L169.99,15.65L170.16,15.66L170.33,15.68L170.50,15.70L170.67,15.72L170.83,15.74L170.91,15.75M171.92,15.88L172.07,15.90L172.22,15.92L172.36,15.94L172.51,15.96L172.65,15.98L172.80,16.01L172.94,16.03L173.09,16.05L173.23,16.08L173.38,16.10L173.52,16.13L173.67,16.15L173.81,16.18L173.96,16.20L174.06,16.22M175.08,16.42L175.15,16.43L175.31,16.46L175.46,16.49L175.62,16.53L175.78,16.56L175.93,16.59L176.09,16.63L176.25,16.66L176.41,16.69L176.57,16.73L176.73,16.77L176.88,16.80L177.04,16.84L177.20,16.88L177.21,16.88M178.24,17.13L178.31,17.14L178.47,17.18L178.63,17.22L178.78,17.26L178.94,17.30L179.09,17.34L179.25,17.38L179.40,17.42L179.55,17.46L179.70,17.50L179.85,17.54L180.00,17.58L180.14,17.62L180.29,17.66L180.37,17.68M181.41,17.97L181.42,17.98L181.56,18.02L181.70,18.06L181.84,18.10L181.98,18.14L182.12,18.18L182.26,18.23L182.40,18.27L182.54,18.31L182.69,18.36L182.83,18.41L182.97,18.45L183.11,18.50L183.26,18.55L183.40,18.60L183.52,18.63M184.59,19.01L184.62,19.02L184.78,19.08L184.94,19.14L185.10,19.20L185.27,19.27L185.43,19.33L185.59,19.39L185.76,19.46L185.92,19.52L186.09,19.59L186.25,19.65L186.42,19.72L186.58,19.79L186.68,19.82M187.75,20.26L187.88,20.32L188.04,20.38L188.20,20.45L188.35,20.51L188.50,20.57L188.65,20.64L188.80,20.70L188.95,20.76L189.09,20.82L189.23,20.88L189.37,20.94L189.51,21.00L189.65,21.06L189.79,21.12L189.83,21.14M190.93,21.61L190.99,21.64L191.12,21.70L191.25,21.76L191.37,21.81L191.50,21.87L191.63,21.93L191.76,21.99L191.89,22.05L192.02,22.12L192.15,22.18L192.28,22.24L192.41,22.30L192.54,22.37L192.67,22.43L192.80,22.50L192.93,22.57L192.98,22.59M194.12,23.19L194.13,23.20L194.26,23.27L194.40,23.34L194.53,23.41L194.66,23.49L194.79,23.56L194.93,23.64L195.06,23.71L195.19,23.79L195.32,23.86L195.45,23.94L195.58,24.01L195.71,24.09L195.83,24.16L195.96,24.24L196.09,24.32L196.14,24.35M197.34,25.12L197.40,25.16L197.51,25.24L197.63,25.32L197.74,25.39L197.85,25.47L197.96,25.55L198.07,25.63L198.18,25.70L198.29,25.78L198.39,25.86L198.50,25.94L198.61,26.02L198.72,26.10L198.82,26.18L198.93,26.26L199.04,26.34L199.14,26.43L199.25,26.51L199.29,26.54M200.53,27.53L200.55,27.53L200.66,27.62L200.77,27.71L200.88,27.80L200.99,27.89L201.10,27.97L201.21,28.06L201.32,28.15L201.43,28.24L201.53,28.33L201.64,28.43L201.75,28.52L201.86,28.61L201.97,28.70L202.08,28.80L202.18,28.89L202.29,28.99L202.39,29.09L202.45,29.14M203.96,30.79L204.04,30.90L204.13,31.01L204.22,31.13L204.31,31.24L204.40,31.36L204.48,31.48L204.57,31.60L204.65,31.72L204.74,31.84L204.82,31.96L204.91,32.09L204.99,32.21L205.08,32.34L205.16,32.46L205.24,32.59L205.32,32.72L205.40,32.84L205.48,32.97L205.56,33.10L205.60,33.17M207.11,36.20L207.15,36.30L207.22,36.45L207.29,36.60L207.35,36.75L207.42,36.90L207.49,37.05L207.56,37.19L207.62,37.34L207.69,37.48L207.76,37.62L207.83,37.76L207.90,37.90L207.97,38.04L208.04,38.17L208.11,38.30L208.18,38.44L208.25,38.57L208.32,38.70L208.40,38.82L208.47,38.95L208.54,39.08L208.61,39.20L208.68,39.33L208.75,39.45M210.41,42.54L210.44,42.60L210.50,42.72L210.56,42.85L210.61,42.98L210.67,43.11L210.73,43.23L210.79,43.36L210.85,43.49L210.91,43.62L210.96,43.75L211.02,43.88L211.08,44.01L211.14,44.14L211.20,44.28L211.25,44.41L211.31,44.55L211.37,44.69L211.43,44.83L211.49,44.97L211.55,45.11L211.61,45.25L211.67,45.40L211.74,45.55L211.80,45.70L211.86,45.85L211.91,45.96M213.55,50.14L213.60,50.27L213.67,50.45L213.73,50.62L213.80,50.80L213.87,50.98L213.93,51.15L214.00,51.33L214.06,51.52L214.13,51.70L214.19,51.88L214.26,52.07L214.32,52.25L214.39,52.44L214.46,52.63L214.52,52.82L214.59,53.01L214.65,53.19L214.72,53.38L214.78,53.57L214.85,53.76L214.91,53.94L214.97,54.13L215.04,54.31L215.06,54.38M216.66,58.75L216.68,58.81L216.73,58.94L216.78,59.07L216.82,59.19L216.87,59.32L216.92,59.44L216.97,59.57L217.01,59.69L217.06,59.82L217.11,59.94L217.15,60.07L217.20,60.20L217.25,60.33L217.29,60.45L217.33,60.57L217.38,60.70L217.42,60.82L217.46,60.93L217.50,61.05L217.54,61.17L217.58,61.28L217.62,61.40L217.66,61.51L217.70,61.62L217.74,61.74L217.78,61.85L217.82,61.97L217.86,62.08L217.90,62.20L217.94,62.32L217.98,62.44L218.02,62.56L218.06,62.68L218.11,62.81L218.15,62.93L218.20,63.06L218.22,63.11M219.99,67.68L220.02,67.76L220.09,67.95L220.16,68.15L220.23,68.36L220.30,68.56L220.37,68.77L220.43,68.98L220.50,69.20L220.57,69.42L220.63,69.64L220.70,69.87L220.77,70.10L220.83,70.34L220.90,70.58L220.97,70.82L221.04,71.06L221.10,71.31L221.17,71.56L221.24,71.82L221.30,72.07L221.37,72.32M223.08,79.68L223.09,79.70L223.15,80.01L223.22,80.33L223.28,80.65L223.35,80.96L223.41,81.28L223.48,81.60L223.54,81.92L223.60,82.24L223.67,82.55L223.73,82.87L223.79,83.19L223.86,83.50L223.92,83.81L223.98,84.12L224.04,84.43L224.10,84.73L224.16,85.03L224.22,85.33L224.28,85.62L224.34,85.91L224.40,86.20L224.46,86.48L224.52,86.76L224.52,86.80M226.16,94.85L226.19,94.97L226.23,95.21L226.27,95.45L226.32,95.69L226.36,95.92L226.40,96.16L226.44,96.39L226.48,96.62L226.52,96.85L226.56,97.08L226.60,97.31L226.64,97.54L226.68,97.77L226.72,98.00L226.77,98.23L226.81,98.46L226.85,98.69L226.89,98.92L226.93,99.15L226.98,99.38L227.02,99.61L227.06,99.84L227.11,100.07L227.16,100.30L227.20,100.53L227.25,100.77L227.30,101.00L227.35,101.23L227.40,101.47L227.46,101.70L227.51,101.93L227.56,102.15L227.62,102.38L227.68,102.61L227.68,102.61M229.55,111.71L229.59,112.02L229.63,112.34L229.67,112.66L229.72,112.98L229.76,113.30L229.80,113.62L229.84,113.94L229.88,114.26L229.92,114.58L229.96,114.89L230.01,115.21L230.05,115.52L230.09,115.82L230.13,116.13L230.17,116.43L230.21,116.72L230.26,117.01L230.30,117.30L230.34,117.58L230.39,117.86L230.43,118.14L230.47,118.41L230.52,118.68L230.56,118.95L230.61,119.22L230.65,119.49L230.70,119.75L230.74,120.01L230.79,120.28L230.83,120.54L230.83,120.55M232.47,131.01L232.48,131.12L232.52,131.37L232.55,131.61L232.59,131.86L232.63,132.11L232.66,132.35L232.70,132.60L232.74,132.85L232.77,133.09L232.81,133.34L232.85,133.59L232.88,133.84L232.92,134.09L232.96,134.34L233.00,134.59L233.03,134.84L233.07,135.09L233.11,135.34L233.14,135.59L233.18,135.84L233.22,136.09L233.26,136.34L233.29,136.58L233.33,136.83L233.37,137.08L233.40,137.32L233.44,137.56L233.48,137.80L233.51,138.04L233.55,138.28L233.59,138.52L233.62,138.76L233.66,138.99L233.69,139.22L233.73,139.45L233.76,139.68L233.80,139.90L233.83,140.12L233.87,140.34L233.90,140.55L233.94,140.76L233.97,140.97L233.99,141.07M235.48,150.52L235.50,150.64L235.54,150.91L235.59,151.18L235.63,151.44L235.67,151.71L235.71,151.97L235.75,152.22L235.79,152.48L235.83,152.73L235.88,152.98L235.92,153.22L235.96,153.46L236.00,153.70L236.04,153.94L236.08,154.18L236.13,154.42L236.17,154.67L236.21,154.92L236.26,155.17L236.30,155.43L236.35,155.68L236.39,155.94L236.44,156.19L236.48,156.45L236.53,156.70L236.57,156.94L236.62,157.19L236.66,157.42L236.71,157.66L236.75,157.89L236.80,158.11L236.84,158.32L236.89,158.53L236.93,158.73L236.97,158.92L237.02,159.09L237.06,159.26L237.10,159.42L237.14,159.56M238.99,156.63L239.01,156.57L239.05,156.44L239.09,156.31L239.13,156.19L239.17,156.06L239.22,155.93L239.26,155.80L239.30,155.66L239.34,155.53L239.38,155.40L239.42,155.27L239.46,155.13L239.50,155.00L239.54,154.87L239.58,154.73L239.62,154.59L239.66,154.45L239.70,154.31L239.74,154.16L239.78,154.02L239.83,153.87L239.87,153.72L239.91,153.57L239.95,153.42L239.99,153.27L240.03,153.12L240.07,152.97L240.11,152.81L240.15,152.66L240.19,152.50L240.23,152.35L240.27,152.19L240.29,152.12M242.03,144.38L242.03,144.36L242.07,144.19L242.10,144.02L242.13,143.85L242.17,143.68L242.20,143.51L242.23,143.33L242.27,143.16L242.30,142.99L242.33,142.82L242.37,142.64L242.40,142.47L242.43,142.30L242.47,142.12L242.50,141.95L242.53,141.77L242.57,141.60L242.60,141.42L242.63,141.25L242.67,141.07L242.70,140.90L242.73,140.72L242.77,140.55L242.80,140.37L242.83,140.20L242.87,140.02L242.90,139.85L242.93,139.67L242.96,139.50L243.00,139.32L243.03,139.14L243.06,138.97L243.10,138.79L243.13,138.61L243.16,138.43L243.19,138.26L243.23,138.08L243.26,137.90L243.29,137.72L243.33,137.54L243.36,137.36L243.39,137.17L243.43,136.99L243.45,136.87M244.77,129.65L244.80,129.50L244.84,129.31L244.89,129.12L244.93,128.94L244.98,128.76L245.03,128.58L245.08,128.40L245.12,128.22L245.17,128.04L245.22,127.87L245.27,127.69L245.32,127.52L245.38,127.34L245.43,127.17L245.48,127.00L245.53,126.83L245.58,126.65L245.64,126.48L245.69,126.30L245.74,126.13L245.79,125.95L245.84,125.77L245.90,125.60L245.95,125.42L246.00,125.23L246.05,125.05L246.10,124.87L246.15,124.68L246.20,124.49L246.25,124.30L246.30,124.10L246.35,123.90L246.40,123.70L246.45,123.49L246.49,123.29L246.54,123.07L246.59,122.86L246.60,122.82M248.06,115.89L248.07,115.79L248.10,115.63L248.13,115.47L248.16,115.31L248.19,115.16L248.22,115.00L248.25,114.84L248.28,114.69L248.31,114.53L248.34,114.38L248.38,114.22L248.41,114.07L248.44,113.91L248.47,113.76L248.51,113.60L248.54,113.44L248.58,113.28L248.62,113.12L248.66,112.96L248.70,112.80L248.74,112.64L248.79,112.47L248.83,112.30L248.88,112.14L248.93,111.97L248.97,111.80L249.02,111.63L249.07,111.45L249.13,111.28L249.18,111.11L249.23,110.94L249.28,110.77L249.34,110.60L249.39,110.43L249.44,110.26L249.50,110.09L249.55,109.92L249.60,109.75L249.66,109.59L249.71,109.42L249.76,109.28M251.39,104.19L251.43,104.06L251.48,103.91L251.52,103.76L251.57,103.60L251.61,103.44L251.66,103.28L251.71,103.11L251.76,102.94L251.80,102.78L251.85,102.61L251.90,102.43L251.95,102.26L252.00,102.09L252.05,101.91L252.10,101.74L252.15,101.56L252.20,101.39L252.26,101.21L252.31,101.04L252.36,100.86L252.41,100.69L252.47,100.51L252.52,100.34L252.58,100.17L252.63,100.00L252.69,99.83L252.74,99.66L252.80,99.50L252.86,99.34L252.91,99.19M254.27,95.69L254.28,95.67L254.34,95.52L254.40,95.38L254.46,95.23L254.52,95.09L254.58,94.96L254.64,94.83L254.70,94.70L254.76,94.58L254.81,94.46L254.87,94.34L254.92,94.23L254.97,94.12L255.03,94.02L255.08,93.92L255.13,93.82L255.18,93.72L255.23,93.63L255.28,93.54L255.33,93.45L255.38,93.36L255.43,93.28L255.47,93.19L255.52,93.11L255.57,93.03L255.62,92.95L255.67,92.87L255.71,92.79L255.76,92.71L255.81,92.64L255.86,92.56L255.91,92.48L255.95,92.40L256.00,92.32L256.05,92.24L256.06,92.22M257.44,90.08L257.45,90.07L257.50,89.99L257.55,89.92L257.60,89.85L257.65,89.77L257.70,89.70L257.75,89.63L257.80,89.55L257.85,89.48L257.90,89.41L257.95,89.33L258.00,89.26L258.05,89.19L258.10,89.12L258.15,89.05L258.20,88.97L258.25,88.90L258.30,88.83L258.36,88.76L258.41,88.69L258.46,88.62L258.51,88.55L258.56,88.48L258.61,88.41L258.66,88.34L258.71,88.27L258.76,88.20L258.81,88.13L258.86,88.07L258.91,88.00L258.96,87.93L259.01,87.86L259.05,87.80L259.10,87.73L259.15,87.67L259.20,87.60L259.22,87.58M260.61,85.79L260.66,85.73L260.72,85.65L260.78,85.57L260.84,85.49L260.90,85.41L260.96,85.33L261.03,85.24L261.09,85.16L261.16,85.07L261.22,84.98L261.29,84.89L261.36,84.80L261.42,84.71L261.49,84.62L261.56,84.53L261.63,84.44L261.70,84.35L261.77,84.26L261.84,84.17L261.91,84.07L261.98,83.98L262.05,83.89L262.12,83.80L262.19,83.71L262.26,83.63L262.33,83.54L262.37,83.48M263.65,81.95L263.71,81.88L263.77,81.81L263.84,81.73L263.90,81.66L263.97,81.58L264.04,81.51L264.11,81.43L264.17,81.36L264.24,81.28L264.31,81.20L264.38,81.13L264.46,81.05L264.53,80.98L264.60,80.90L264.67,80.82L264.75,80.75L264.82,80.67L264.90,80.59L264.98,80.51L265.05,80.43L265.13,80.35L265.21,80.27L265.29,80.19L265.37,80.11L265.45,80.04L265.53,79.96M266.68,78.88L266.75,78.81L266.84,78.74L266.92,78.67L267.00,78.60L267.08,78.53L267.16,78.47L267.24,78.40L267.32,78.34L267.41,78.28L267.49,78.22L267.57,78.16L267.65,78.10L267.73,78.04L267.81,77.99L267.89,77.93L267.97,77.87L268.05,77.82L268.13,77.76L268.21,77.71L268.29,77.65L268.38,77.60L268.46,77.54L268.54,77.48L268.63,77.43L268.68,77.39M269.92,76.47L269.97,76.43L270.06,76.36L270.16,76.28L270.25,76.20L270.35,76.12L270.45,76.04L270.55,75.96L270.64,75.88L270.74,75.80L270.84,75.71L270.94,75.63L271.04,75.55L271.15,75.46L271.25,75.38L271.35,75.30L271.45,75.21L271.55,75.13L271.66,75.05L271.76,74.97L271.83,74.91M272.99,74.05L273.04,74.01L273.15,73.93L273.27,73.85L273.38,73.77L273.49,73.69L273.60,73.61L273.72,73.54L273.83,73.46L273.95,73.38L274.06,73.30L274.18,73.23L274.29,73.15L274.41,73.07L274.52,72.99L274.64,72.92L274.75,72.84L274.87,72.76L274.98,72.69L274.99,72.69M276.11,71.97L276.13,71.96L276.24,71.89L276.35,71.82L276.47,71.75L276.58,71.68L276.69,71.61L276.81,71.54L276.92,71.47L277.03,71.41L277.15,71.34L277.26,71.27L277.37,71.21L277.49,71.14L277.60,71.08L277.71,71.01L277.83,70.94L277.94,70.88L278.05,70.81L278.14,70.76M279.26,70.12L279.30,70.10L279.41,70.04L279.53,69.97L279.64,69.91L279.75,69.84L279.87,69.78L279.98,69.71L280.10,69.65L280.21,69.58L280.32,69.52L280.44,69.46L280.55,69.39L280.66,69.33L280.78,69.26L280.89,69.20L281.01,69.14L281.12,69.07L281.23,69.01L281.30,68.98M282.42,68.36L282.48,68.32L282.59,68.26L282.70,68.20L282.81,68.14L282.92,68.08L283.03,68.02L283.14,67.95L283.25,67.89L283.36,67.83L283.47,67.77L283.58,67.71L283.69,67.65L283.80,67.59L283.90,67.53L284.01,67.47L284.12,67.41L284.23,67.35L284.34,67.29L284.45,67.23L284.45,67.23M285.54,66.64L285.55,66.63L285.66,66.58L285.77,66.52L285.89,66.46L286.00,66.40L286.12,66.34L286.23,66.28L286.35,66.23L286.46,66.17L286.58,66.11L286.70,66.05L286.81,66.00L286.93,65.94L287.05,65.88L287.17,65.83L287.29,65.77L287.40,65.71L287.52,65.66L287.60,65.62M288.68,65.12L288.73,65.09L288.86,65.04L288.98,64.98L289.10,64.93L289.23,64.87L289.35,64.81L289.48,64.76L289.60,64.70L289.73,64.64L289.85,64.59L289.98,64.53L290.10,64.47L290.23,64.42L290.36,64.36L290.49,64.30L290.62,64.25L290.74,64.19L290.76,64.18M291.83,63.72L291.92,63.68L292.05,63.62L292.18,63.57L292.31,63.51L292.45,63.45L292.58,63.40L292.71,63.34L292.84,63.28L292.97,63.23L293.10,63.17L293.24,63.11L293.37,63.06L293.50,63.00L293.63,62.94L293.76,62.89L293.90,62.83L293.91,62.82M294.99,62.38L295.12,62.32L295.25,62.27L295.39,62.21L295.52,62.16L295.66,62.10L295.80,62.04L295.93,61.99L296.07,61.93L296.20,61.87L296.33,61.82L296.47,61.76L296.60,61.70L296.73,61.65L296.86,61.59L296.99,61.53L297.07,61.50M298.19,60.96L298.22,60.94L298.34,60.88L298.46,60.82L298.57,60.76L298.69,60.70L298.80,60.64L298.91,60.58L299.02,60.52L299.14,60.46L299.25,60.40L299.36,60.34L299.48,60.28L299.59,60.22L299.70,60.16L299.81,60.10L299.93,60.04L300.04,59.98L300.16,59.92L300.22,59.88M301.29,59.36L301.38,59.32L301.51,59.26L301.64,59.21L301.77,59.15L301.90,59.09L302.03,59.03L302.16,58.97L302.30,58.91L302.43,58.85L302.56,58.79L302.70,58.73L302.83,58.67L302.97,58.61L303.10,58.55L303.24,58.50L303.37,58.44M304.41,58.02L304.46,58.00L304.60,57.95L304.73,57.90L304.87,57.85L305.00,57.80L305.13,57.75L305.27,57.71L305.40,57.66L305.53,57.61L305.66,57.57L305.80,57.52L305.93,57.48L306.06,57.44L306.19,57.40L306.33,57.36L306.46,57.31L306.53,57.29M307.55,56.99L307.65,56.97L307.79,56.93L307.92,56.89L308.05,56.86L308.19,56.82L308.32,56.78L308.46,56.75L308.59,56.71L308.73,56.67L308.86,56.64L309.00,56.60L309.14,56.56L309.27,56.53L309.41,56.49L309.55,56.46L309.68,56.42L309.68,56.42M310.70,56.16L310.77,56.14L310.91,56.11L311.05,56.08L311.19,56.04L311.33,56.01L311.47,55.98L311.61,55.94L311.75,55.91L311.89,55.88L312.03,55.85L312.17,55.82L312.32,55.78L312.46,55.75L312.61,55.72L312.75,55.69L312.84,55.67M313.85,55.47L313.96,55.45L314.12,55.42L314.27,55.39L314.43,55.36L314.59,55.33L314.75,55.30L314.91,55.27L315.07,55.25L315.23,55.22L315.39,55.19L315.55,55.16L315.71,55.14L315.87,55.11L315.99,55.09M317.00,54.93L317.02,54.93L317.18,54.91L317.35,54.89L317.51,54.86L317.67,54.84L317.84,54.82L318.00,54.80L318.16,54.78L318.33,54.76L318.50,54.74L318.66,54.72L318.83,54.70L319.00,54.69L319.14,54.67M320.15,54.58L320.21,54.57L320.38,54.56L320.55,54.54L320.72,54.53L320.89,54.52L321.06,54.50L321.23,54.49L321.40,54.48L321.57,54.47L321.73,54.46L321.90,54.45L322.06,54.44L322.22,54.43L322.30,54.43M323.31,54.39L323.45,54.39L323.59,54.39L323.74,54.38L323.88,54.38L324.02,54.38L324.16,54.38L324.30,54.38L324.44,54.39L324.58,54.39L324.72,54.39L324.86,54.39L324.99,54.40L325.12,54.40L325.26,54.40L325.39,54.41L325.45,54.41M326.46,54.46L326.52,54.47L326.64,54.48L326.76,54.48L326.88,54.49L327.00,54.50L327.12,54.51L327.23,54.52L327.34,54.53L327.45,54.54L327.56,54.55L327.66,54.56L327.77,54.57L327.87,54.58L327.97,54.59L328.07,54.60L328.17,54.61L328.27,54.62L328.37,54.64L328.47,54.65L328.56,54.66L328.61,54.67M329.63,54.83L329.70,54.85L329.80,54.86L329.90,54.88L330.00,54.90L330.10,54.92L330.20,54.94L330.29,54.96L330.39,54.97L330.48,54.99L330.58,55.01L330.67,55.03L330.76,55.05L330.85,55.07L330.94,55.09L331.04,55.11L331.13,55.13L331.22,55.15L331.31,55.17L331.41,55.19L331.50,55.22L331.60,55.24L331.69,55.26L331.76,55.28M332.79,55.55L332.88,55.57L333.00,55.60L333.13,55.63L333.27,55.67L333.41,55.71L333.56,55.75L333.72,55.80L333.88,55.84L334.04,55.89L334.21,55.94L334.38,55.99L334.56,56.04L334.73,56.09L334.91,56.14L334.91,56.14M335.74,56.38L335.78,56.40L335.95,56.44L336.12,56.49L336.28,56.54L336.43,56.59L336.58,56.63L336.73,56.67L336.86,56.71L336.99,56.75L337.11,56.79L337.23,56.82L337.33,56.85L337.42,56.88L337.50,56.90" stroke="#f04545" stroke-width="1.4" stroke-linecap="butt"/><path d="M76.5,70 L78.4,76.9 M79.4,81.8 L81.4,86.7 M81.9,89.6 C82.6,91.6 83.6,93.4 85.3,93.6 C86.5,93.6 87.0,92.3 87.4,90.4 M88.3,86.2 L90.2,80.8 M91.2,74.4 L92.7,70" stroke="#f04545" stroke-width="1.4"/><path d="M47.90,10.20 C48.40,10.37 49.90,10.83 50.90,11.20 C51.90,11.57 52.75,11.88 53.90,12.40 C55.05,12.92 56.50,13.57 57.80,14.30 C59.10,15.03 60.63,16.02 61.70,16.80 C62.77,17.58 63.38,18.18 64.20,19.00 C65.02,19.82 65.72,20.58 66.60,21.70 C67.48,22.82 68.58,24.23 69.50,25.70 C70.42,27.17 71.23,28.72 72.10,30.50 C72.97,32.28 73.77,33.95 74.70,36.40 C75.63,38.85 76.87,42.58 77.70,45.20 C78.53,47.82 79.10,50.05 79.70,52.10 C80.30,54.15 80.83,55.85 81.30,57.50 C81.77,59.15 82.12,60.33 82.50,62.00 C82.88,63.67 83.15,65.07 83.60,67.50 C84.05,69.93 84.70,74.22 85.20,76.60 C85.70,78.98 86.02,80.52 86.60,81.80 C87.18,83.08 88.03,84.05 88.70,84.30 C89.37,84.55 90.03,83.92 90.60,83.30 C91.17,82.68 91.52,82.03 92.10,80.60 C92.68,79.17 93.52,76.60 94.10,74.70 C94.68,72.80 95.12,71.02 95.60,69.20 C96.08,67.38 96.57,65.78 97.00,63.80 C97.43,61.82 97.78,59.30 98.20,57.30 C98.62,55.30 98.90,53.65 99.50,51.80 C100.10,49.95 101.13,47.87 101.80,46.20 C102.47,44.53 102.97,43.12 103.50,41.80 C104.03,40.48 104.75,38.88 105.00,38.30" stroke="#00f000" stroke-width="1.75" stroke-dasharray="7.8 7.9" stroke-dashoffset="1.03"/><path d="M105.00,38.30 C105.33,37.75 106.27,36.05 107.00,35.00 C107.73,33.95 108.57,32.95 109.40,32.00 C110.23,31.05 111.10,30.23 112.00,29.30 C112.90,28.37 113.88,27.32 114.80,26.40 C115.72,25.48 116.52,24.62 117.50,23.80 C118.48,22.98 119.45,22.27 120.70,21.50 C121.95,20.73 123.52,19.88 125.00,19.20 C126.48,18.52 128.02,17.95 129.60,17.40 C131.18,16.85 132.85,16.32 134.50,15.90 C136.15,15.48 137.87,15.18 139.50,14.90 C141.13,14.62 142.40,14.43 144.30,14.20 C146.20,13.97 148.95,13.67 150.90,13.50 C152.85,13.33 154.27,13.27 156.00,13.20 C157.73,13.13 159.32,13.08 161.30,13.10 C163.28,13.12 165.87,13.17 167.90,13.30 C169.93,13.43 171.53,13.65 173.50,13.90 C175.47,14.15 177.62,14.40 179.70,14.80 C181.78,15.20 183.82,15.63 186.00,16.30 C188.18,16.97 190.80,17.85 192.80,18.80 C194.80,19.75 196.55,20.88 198.00,22.00 C199.45,23.12 200.40,24.18 201.50,25.50 C202.60,26.82 203.73,28.63 204.60,29.90 C205.47,31.17 206.05,32.00 206.70,33.10 C207.35,34.20 208.20,35.93 208.50,36.50" stroke="#00f000" stroke-width="1.75" stroke-dasharray="7.8 7.9" stroke-dashoffset="13.76"/><path d="M208.50,36.50 C208.88,37.50 210.03,40.30 210.80,42.50 C211.57,44.70 212.47,47.62 213.10,49.70 C213.73,51.78 214.13,53.28 214.60,55.00 C215.07,56.72 215.47,58.07 215.90,60.00 C216.33,61.93 216.82,64.52 217.20,66.60 C217.58,68.68 217.87,70.55 218.20,72.50 C218.53,74.45 218.82,76.30 219.20,78.30 C219.58,80.30 220.15,82.63 220.50,84.50 C220.85,86.37 221.08,88.08 221.30,89.50 C221.52,90.92 221.60,91.25 221.80,93.00 C222.00,94.75 222.28,97.48 222.50,100.00 C222.72,102.52 222.88,105.65 223.10,108.10 C223.32,110.55 223.57,112.72 223.80,114.70 C224.03,116.68 224.28,118.27 224.50,120.00 C224.72,121.73 224.90,123.27 225.10,125.10 C225.30,126.93 225.53,128.00 225.70,131.00 C225.87,134.00 225.92,138.90 226.10,143.10 C226.28,147.30 226.58,152.38 226.80,156.20 C227.02,160.02 227.22,162.87 227.40,166.00 C227.58,169.13 227.73,172.17 227.90,175.00 C228.07,177.83 228.25,180.67 228.40,183.00 C228.55,185.33 228.65,187.00 228.80,189.00 C228.95,191.00 229.22,194.00 229.30,195.00" stroke="#00f000" stroke-width="1.75" stroke-dasharray="7.8 7.9" stroke-dashoffset="6.74"/><path d="M229.30,195.00 C229.37,194.17 229.57,191.68 229.70,190.00 C229.83,188.32 229.97,186.90 230.10,184.90 C230.23,182.90 230.37,180.32 230.50,178.00 C230.63,175.68 230.75,173.33 230.90,171.00 C231.05,168.67 231.25,166.47 231.40,164.00 C231.55,161.53 231.65,159.20 231.80,156.20 C231.95,153.20 232.15,149.12 232.30,146.00 C232.45,142.88 232.50,140.67 232.70,137.50 C232.90,134.33 233.20,129.98 233.50,127.00 C233.80,124.02 234.18,122.22 234.50,119.60 C234.82,116.98 235.08,113.83 235.40,111.30 C235.72,108.77 236.05,106.70 236.40,104.40 C236.75,102.10 237.10,99.65 237.50,97.50 C237.90,95.35 238.33,93.42 238.80,91.50 C239.27,89.58 239.75,87.97 240.30,86.00 C240.85,84.03 241.47,81.63 242.10,79.70 C242.73,77.77 243.52,75.85 244.10,74.40 C244.68,72.95 245.08,72.08 245.60,71.00 C246.12,69.92 246.67,69.07 247.20,67.90 C247.73,66.73 248.25,65.32 248.80,64.00 C249.35,62.68 249.72,61.30 250.50,60.00 C251.28,58.70 252.42,57.45 253.50,56.20 C254.58,54.95 255.65,53.77 257.00,52.50 C258.35,51.23 260.17,49.78 261.60,48.60 C263.03,47.42 264.18,46.38 265.60,45.40 C267.02,44.42 268.25,43.58 270.10,42.70 C271.95,41.82 274.13,40.93 276.70,40.10 C279.27,39.27 282.95,38.30 285.50,37.70 C288.05,37.10 289.38,37.02 292.00,36.50 C294.62,35.98 298.47,35.10 301.20,34.60 C303.93,34.10 305.85,33.83 308.40,33.50 C310.95,33.17 313.52,32.88 316.50,32.60 C319.48,32.32 322.80,32.00 326.30,31.80 C329.80,31.60 335.63,31.47 337.50,31.40" stroke="#00f000" stroke-width="1.75" stroke-dasharray="8 8.2" stroke-dashoffset="14.55"/></g>
<g clip-path="url(#cr)" fill="none" stroke-linejoin="round"><path d="M416.20,3.00 C416.25,4.20 416.28,6.58 416.50,10.20 C416.72,13.82 417.12,19.73 417.50,24.70 C417.88,29.67 418.37,35.27 418.80,40.00 C419.23,44.73 419.73,48.73 420.10,53.10 C420.47,57.47 420.63,61.83 421.00,66.20 C421.37,70.57 421.83,73.75 422.30,79.30 C422.77,84.85 423.32,94.05 423.80,99.50 C424.28,104.95 424.75,107.75 425.20,112.00 C425.65,116.25 426.10,120.50 426.50,125.00 C426.90,129.50 427.25,134.83 427.60,139.00 C427.95,143.17 428.23,147.00 428.60,150.00 C428.97,153.00 429.40,154.75 429.80,157.00 C430.20,159.25 430.60,161.67 431.00,163.50 C431.40,165.33 431.82,166.67 432.20,168.00 C432.58,169.33 432.92,170.33 433.30,171.50 C433.68,172.67 434.10,173.88 434.50,175.00 C434.90,176.12 435.20,177.30 435.70,178.20 C436.20,179.10 436.93,180.20 437.50,180.40 C438.07,180.60 438.63,179.97 439.10,179.40 C439.57,178.83 439.95,177.82 440.30,177.00 C440.65,176.18 440.88,175.50 441.20,174.50 C441.52,173.50 441.88,172.33 442.20,171.00 C442.52,169.67 442.78,168.00 443.10,166.50 C443.42,165.00 443.77,163.58 444.10,162.00 C444.43,160.42 444.75,159.08 445.10,157.00 C445.45,154.92 445.78,152.47 446.20,149.50 C446.62,146.53 447.20,142.28 447.60,139.20 C448.00,136.12 448.28,133.37 448.60,131.00 C448.92,128.63 449.18,127.33 449.50,125.00 C449.82,122.67 450.03,121.25 450.50,117.00 C450.97,112.75 451.72,105.78 452.30,99.50 C452.88,93.22 453.55,84.85 454.00,79.30 C454.45,73.75 454.62,70.57 455.00,66.20 C455.38,61.83 455.90,57.83 456.30,53.10 C456.70,48.37 457.07,42.53 457.40,37.80 C457.73,33.07 458.03,29.30 458.30,24.70 C458.57,20.10 458.80,13.82 459.00,10.20 C459.20,6.58 459.42,4.20 459.50,3.00" stroke="#000" stroke-width="2"/><path d="M528.60,3.00 C528.65,4.28 528.57,7.90 528.90,10.70 C529.23,13.50 530.05,17.20 530.60,19.80 C531.15,22.40 531.58,24.62 532.20,26.30 C532.82,27.98 533.48,29.90 534.30,29.90 C535.12,29.90 536.22,28.27 537.10,26.30 C537.98,24.33 539.00,20.70 539.60,18.10 C540.20,15.50 540.43,13.22 540.70,10.70 C540.97,8.18 541.12,4.28 541.20,3.00" stroke="#000" stroke-width="2"/><path d="M555.80,3.00 C555.83,4.28 555.70,7.63 556.00,10.70 C556.30,13.77 557.13,17.35 557.60,21.40 C558.07,25.45 558.43,30.23 558.80,35.00 C559.17,39.77 559.50,44.77 559.80,50.00 C560.10,55.23 560.33,60.93 560.60,66.40 C560.87,71.87 561.18,78.03 561.40,82.80 C561.62,87.57 561.72,90.78 561.90,95.00 C562.08,99.22 562.30,103.73 562.50,108.10 C562.70,112.47 562.85,117.80 563.10,121.20 C563.35,124.60 563.65,126.03 564.00,128.50 C564.35,130.97 564.78,133.25 565.20,136.00 C565.62,138.75 566.12,141.63 566.50,145.00 C566.88,148.37 567.22,152.37 567.50,156.20 C567.78,160.03 567.97,164.20 568.20,168.00 C568.43,171.80 568.58,175.13 568.90,179.00 C569.22,182.87 569.75,187.20 570.10,191.20 C570.45,195.20 570.73,199.45 571.00,203.00 C571.27,206.55 571.50,209.72 571.70,212.50 C571.90,215.28 572.02,217.90 572.20,219.70 C572.38,221.50 572.53,223.42 572.80,223.30 C573.07,223.18 573.43,221.38 573.80,219.00 C574.17,216.62 574.63,212.33 575.00,209.00 C575.37,205.67 575.73,201.97 576.00,199.00 C576.27,196.03 576.37,194.68 576.60,191.20 C576.83,187.72 577.10,182.13 577.40,178.10 C577.70,174.07 578.05,170.18 578.40,167.00 C578.75,163.82 579.10,161.45 579.50,159.00 C579.90,156.55 580.38,155.30 580.80,152.30 C581.22,149.30 581.62,144.72 582.00,141.00 C582.38,137.28 582.75,133.25 583.10,130.00 C583.45,126.75 583.78,124.25 584.10,121.50 C584.42,118.75 584.70,115.87 585.00,113.50 C585.30,111.13 585.60,109.10 585.90,107.30 C586.20,105.50 586.48,104.22 586.80,102.70 C587.12,101.18 587.47,99.87 587.80,98.20 C588.13,96.53 588.47,94.45 588.80,92.70 C589.13,90.95 589.43,89.37 589.80,87.70 C590.17,86.03 590.57,84.23 591.00,82.70 C591.43,81.17 591.92,79.65 592.40,78.50 C592.88,77.35 593.35,76.57 593.90,75.80 C594.45,75.03 595.13,74.40 595.70,73.90 C596.27,73.40 596.75,73.07 597.30,72.80 C597.85,72.53 598.47,72.33 599.00,72.30 C599.53,72.27 600.03,72.35 600.50,72.60 C600.97,72.85 601.28,72.88 601.80,73.80 C602.32,74.72 602.97,75.63 603.60,78.10 C604.23,80.57 605.05,85.53 605.60,88.60 C606.15,91.67 606.55,93.93 606.90,96.50 C607.25,99.07 607.43,101.23 607.70,104.00 C607.97,106.77 608.15,109.40 608.50,113.10 C608.85,116.80 609.37,122.22 609.80,126.20 C610.23,130.18 610.65,133.35 611.10,137.00 C611.55,140.65 611.95,144.28 612.50,148.10 C613.05,151.92 613.65,156.62 614.40,159.90 C615.15,163.18 616.23,167.37 617.00,167.80 C617.77,168.23 618.33,165.13 619.00,162.50 C619.67,159.87 620.47,155.75 621.00,152.00 C621.53,148.25 621.88,143.67 622.20,140.00 C622.52,136.33 622.63,133.83 622.90,130.00 C623.17,126.17 623.53,121.30 623.80,117.00 C624.07,112.70 624.18,107.70 624.50,104.20 C624.82,100.70 625.32,98.73 625.70,96.00 C626.08,93.27 626.40,90.53 626.80,87.80 C627.20,85.07 627.60,82.15 628.10,79.60 C628.60,77.05 629.27,74.97 629.80,72.50 C630.33,70.03 630.83,67.72 631.30,64.80 C631.77,61.88 632.23,58.40 632.60,55.00 C632.97,51.60 633.13,49.45 633.50,44.40 C633.87,39.35 634.37,30.35 634.80,24.70 C635.23,19.05 635.82,14.12 636.10,10.50 C636.38,6.88 636.43,4.25 636.50,3.00" stroke="#000" stroke-width="2"/><path d="M653.80,3.00 C653.82,4.25 653.80,6.88 653.90,10.50 C654.00,14.12 654.18,19.05 654.40,24.70 C654.62,30.35 654.97,38.52 655.20,44.40 C655.43,50.28 655.57,54.12 655.80,60.00 C656.03,65.88 656.37,73.87 656.60,79.70 C656.83,85.53 656.98,90.27 657.20,95.00 C657.42,99.73 657.67,103.93 657.90,108.10 C658.13,112.27 658.38,116.68 658.60,120.00 C658.82,123.32 659.00,125.50 659.20,128.00 C659.40,130.50 659.58,133.35 659.80,135.00 C660.02,136.65 660.25,137.68 660.50,137.90 C660.75,138.12 661.05,137.28 661.30,136.30 C661.55,135.32 661.78,134.05 662.00,132.00 C662.22,129.95 662.40,127.33 662.60,124.00 C662.80,120.67 663.00,116.00 663.20,112.00 C663.40,108.00 663.62,103.67 663.80,100.00 C663.98,96.33 664.10,94.17 664.30,90.00 C664.50,85.83 664.78,80.00 665.00,75.00 C665.22,70.00 665.43,65.17 665.60,60.00 C665.77,54.83 665.87,49.83 666.00,44.00 C666.13,38.17 666.25,30.58 666.40,25.00 C666.55,19.42 666.78,14.17 666.90,10.50 C667.02,6.83 667.07,4.25 667.10,3.00" stroke="#000" stroke-width="2"/><path d="M527.8,13.3 L528.3,17 L528.9,20.5 L529.6,23.3 M531.4,34.5 L534.2,33.7 L537.1,32.5 M539.8,21.5 L540.4,17.5 L541.1,13" stroke="#f04848" stroke-width="2"/><path d="M416.00,3.00 C416.05,4.20 416.08,6.58 416.30,10.20 C416.52,13.82 416.92,19.73 417.30,24.70 C417.68,29.67 418.17,35.27 418.60,40.00 C419.03,44.73 419.53,48.73 419.90,53.10 C420.27,57.47 420.43,61.83 420.80,66.20 C421.17,70.57 421.63,73.75 422.10,79.30 C422.57,84.85 423.12,94.05 423.60,99.50 C424.08,104.95 424.53,107.75 425.00,112.00 C425.47,116.25 425.88,120.33 426.40,125.00 C426.92,129.67 427.53,135.00 428.10,140.00 C428.67,145.00 429.28,150.50 429.80,155.00 C430.32,159.50 430.67,163.43 431.20,167.00 C431.73,170.57 432.37,173.57 433.00,176.40 C433.63,179.23 434.37,181.97 435.00,184.00 C435.63,186.03 436.20,188.10 436.80,188.60 C437.40,189.10 438.07,187.85 438.60,187.00 C439.13,186.15 439.53,184.78 440.00,183.50 C440.47,182.22 440.88,181.22 441.40,179.30 C441.92,177.38 442.47,175.22 443.10,172.00 C443.73,168.78 444.55,163.67 445.20,160.00 C445.85,156.33 446.47,153.08 447.00,150.00 C447.53,146.92 447.93,144.83 448.40,141.50 C448.87,138.17 449.42,133.25 449.80,130.00 C450.18,126.75 450.25,127.00 450.70,122.00 C451.15,117.00 451.92,107.12 452.50,100.00 C453.08,92.88 453.75,84.93 454.20,79.30 C454.65,73.67 454.82,70.57 455.20,66.20 C455.58,61.83 456.10,57.83 456.50,53.10 C456.90,48.37 457.25,42.53 457.60,37.80 C457.95,33.07 458.30,29.30 458.60,24.70 C458.90,20.10 459.20,13.82 459.40,10.20 C459.60,6.58 459.73,4.20 459.80,3.00" stroke="#f04848" stroke-width="2" stroke-dasharray="10 11.5" stroke-dashoffset="4.41"/><path d="M555.60,3.00 C555.63,4.28 555.50,7.63 555.80,10.70 C556.10,13.77 556.93,17.35 557.40,21.40 C557.87,25.45 558.23,30.23 558.60,35.00 C558.97,39.77 559.30,44.77 559.60,50.00 C559.90,55.23 560.13,60.93 560.40,66.40 C560.67,71.87 560.98,78.03 561.20,82.80 C561.42,87.57 561.52,90.78 561.70,95.00 C561.88,99.22 562.08,103.73 562.30,108.10 C562.52,112.47 562.77,117.55 563.00,121.20 C563.23,124.85 563.47,127.37 563.70,130.00 C563.93,132.63 564.15,134.50 564.40,137.00 C564.65,139.50 564.90,141.50 565.20,145.00 C565.50,148.50 565.92,153.83 566.20,158.00 C566.48,162.17 566.68,166.58 566.90,170.00 C567.12,173.42 567.28,175.17 567.50,178.50 C567.72,181.83 567.98,186.42 568.20,190.00 C568.42,193.58 568.60,196.67 568.80,200.00 C569.00,203.33 569.18,206.50 569.40,210.00 C569.62,213.50 569.87,217.92 570.10,221.00 C570.33,224.08 570.57,226.45 570.80,228.50 C571.03,230.55 571.23,232.13 571.50,233.30 C571.77,234.47 572.25,235.13 572.40,235.50" stroke="#f04848" stroke-width="2" stroke-dasharray="10 11.5" stroke-dashoffset="16.98"/><path d="M572.40,235.50 C572.57,235.08 573.10,234.08 573.40,233.00 C573.70,231.92 573.97,230.50 574.20,229.00 C574.43,227.50 574.62,226.00 574.80,224.00 C574.98,222.00 575.10,219.67 575.30,217.00 C575.50,214.33 575.75,211.17 576.00,208.00 C576.25,204.83 576.57,201.17 576.80,198.00 C577.03,194.83 577.20,191.67 577.40,189.00 C577.60,186.33 577.77,184.83 578.00,182.00 C578.23,179.17 578.55,174.83 578.80,172.00 C579.05,169.17 579.22,167.50 579.50,165.00 C579.78,162.50 580.17,159.67 580.50,157.00 C580.83,154.33 581.17,151.83 581.50,149.00 C581.83,146.17 582.17,143.00 582.50,140.00 C582.83,137.00 583.18,133.42 583.50,131.00 C583.82,128.58 584.07,127.42 584.40,125.50 C584.73,123.58 585.15,121.58 585.50,119.50 C585.85,117.42 586.17,114.92 586.50,113.00 C586.83,111.08 587.03,110.35 587.50,108.00 C587.97,105.65 588.72,101.57 589.30,98.90 C589.88,96.23 590.47,93.77 591.00,92.00 C591.53,90.23 591.83,89.72 592.50,88.30 C593.17,86.88 594.13,84.80 595.00,83.50 C595.87,82.20 596.87,81.17 597.70,80.50 C598.53,79.83 599.28,79.48 600.00,79.50 C600.72,79.52 601.40,79.68 602.00,80.60 C602.60,81.52 603.10,83.27 603.60,85.00 C604.10,86.73 604.57,88.87 605.00,91.00 C605.43,93.13 605.83,95.47 606.20,97.80 C606.57,100.13 606.92,102.63 607.20,105.00 C607.48,107.37 607.65,109.42 607.90,112.00 C608.15,114.58 608.40,117.25 608.70,120.50 C609.00,123.75 609.38,128.58 609.70,131.50 C610.02,134.42 610.30,135.75 610.60,138.00 C610.90,140.25 611.20,142.67 611.50,145.00 C611.80,147.33 612.10,149.50 612.40,152.00 C612.70,154.50 612.95,157.50 613.30,160.00 C613.65,162.50 614.10,165.03 614.50,167.00 C614.90,168.97 615.28,170.80 615.70,171.80 C616.12,172.80 616.78,172.80 617.00,173.00" stroke="#f04848" stroke-width="2" stroke-dasharray="10 11.5" stroke-dashoffset="1.83"/><path d="M617.00,173.00 C617.25,172.78 618.05,172.40 618.50,171.70 C618.95,171.00 619.33,170.42 619.70,168.80 C620.07,167.18 620.38,164.72 620.70,162.00 C621.02,159.28 621.30,155.83 621.60,152.50 C621.90,149.17 622.22,145.50 622.50,142.00 C622.78,138.50 622.98,135.00 623.30,131.50 C623.62,128.00 624.03,124.50 624.40,121.00 C624.77,117.50 625.15,114.00 625.50,110.50 C625.85,107.00 626.17,103.42 626.50,100.00 C626.83,96.58 627.08,93.25 627.50,90.00 C627.92,86.75 628.47,83.42 629.00,80.50 C629.53,77.58 630.17,75.00 630.70,72.50 C631.23,70.00 631.75,68.42 632.20,65.50 C632.65,62.58 633.03,58.58 633.40,55.00 C633.77,51.42 634.05,49.00 634.40,44.00 C634.75,39.00 635.17,30.58 635.50,25.00 C635.83,19.42 636.18,14.17 636.40,10.50 C636.62,6.83 636.73,4.25 636.80,3.00" stroke="#f04848" stroke-width="2" stroke-dasharray="10 11.5" stroke-dashoffset="4.60"/><path d="M653.60,3.00 C653.62,4.25 653.60,6.83 653.70,10.50 C653.80,14.17 653.98,19.35 654.20,25.00 C654.42,30.65 654.78,38.57 655.00,44.40 C655.22,50.23 655.30,54.90 655.50,60.00 C655.70,65.10 655.97,70.00 656.20,75.00 C656.43,80.00 656.67,85.33 656.90,90.00 C657.13,94.67 657.38,99.33 657.60,103.00 C657.82,106.67 658.02,108.33 658.20,112.00 C658.38,115.67 658.57,121.67 658.70,125.00 C658.83,128.33 658.87,129.50 659.00,132.00 C659.13,134.50 659.30,137.73 659.50,140.00 C659.70,142.27 659.95,145.02 660.20,145.60 C660.45,146.18 660.73,144.35 661.00,143.50 C661.27,142.65 661.57,141.75 661.80,140.50 C662.03,139.25 662.20,138.08 662.40,136.00 C662.60,133.92 662.82,131.00 663.00,128.00 C663.18,125.00 663.32,121.33 663.50,118.00 C663.68,114.67 663.92,111.00 664.10,108.00 C664.28,105.00 664.38,104.33 664.60,100.00 C664.82,95.67 665.18,87.00 665.40,82.00 C665.62,77.00 665.73,75.33 665.90,70.00 C666.07,64.67 666.25,56.67 666.40,50.00 C666.55,43.33 666.67,36.58 666.80,30.00 C666.93,23.42 667.10,15.00 667.20,10.50 C667.30,6.00 667.37,4.25 667.40,3.00" stroke="#f04848" stroke-width="2" stroke-dasharray="10 11.5" stroke-dashoffset="7.98"/><path d="M418.60,3.00 C418.63,4.25 418.70,8.20 418.80,10.50 C418.90,12.80 418.98,13.78 419.20,16.80 C419.42,19.82 419.80,24.67 420.10,28.60 C420.40,32.53 420.68,36.97 421.00,40.40 C421.32,43.83 421.65,45.98 422.00,49.20 C422.35,52.42 422.77,55.77 423.10,59.70 C423.43,63.63 423.63,68.58 424.00,72.80 C424.37,77.02 424.87,80.55 425.30,85.00 C425.73,89.45 426.13,94.83 426.60,99.50 C427.07,104.17 427.63,108.92 428.10,113.00 C428.57,117.08 429.00,121.00 429.40,124.00 C429.80,127.00 430.17,128.83 430.50,131.00 C430.83,133.17 431.13,135.25 431.40,137.00 C431.67,138.75 431.85,140.03 432.10,141.50 C432.35,142.97 432.63,144.38 432.90,145.80 C433.17,147.22 433.42,148.77 433.70,150.00 C433.98,151.23 434.13,152.45 434.60,153.20 C435.07,153.95 435.88,154.17 436.50,154.50 C437.12,154.83 437.80,155.05 438.30,155.20 C438.80,155.35 439.30,155.37 439.50,155.40" stroke="#00ee00" stroke-width="2" stroke-dasharray="9.5 5.2 3.2 5.2 3.2 6.2" stroke-dashoffset="11.00"/><path d="M439.50,155.40 C439.68,154.88 440.25,153.62 440.60,152.30 C440.95,150.98 441.32,149.02 441.60,147.50 C441.88,145.98 442.08,144.58 442.30,143.20 C442.52,141.82 442.63,141.10 442.90,139.20 C443.17,137.30 443.55,134.00 443.90,131.80 C444.25,129.60 444.62,128.22 445.00,126.00 C445.38,123.78 445.82,121.33 446.20,118.50 C446.58,115.67 446.95,112.17 447.30,109.00 C447.65,105.83 447.90,103.17 448.30,99.50 C448.70,95.83 449.25,91.02 449.70,87.00 C450.15,82.98 450.62,79.30 451.00,75.40 C451.38,71.50 451.65,67.53 452.00,63.60 C452.35,59.67 452.77,55.30 453.10,51.80 C453.43,48.30 453.67,46.07 454.00,42.60 C454.33,39.13 454.77,34.87 455.10,31.00 C455.43,27.13 455.72,22.82 456.00,19.40 C456.28,15.98 456.63,13.23 456.80,10.50 C456.97,7.77 456.97,4.25 457.00,3.00" stroke="#00ee00" stroke-width="2" stroke-dasharray="9.5 5.2 3.2 5.2 3.2 6.2" stroke-dashoffset="8.44"/><path d="M558.70,3.00 C558.73,4.28 558.67,7.63 558.90,10.70 C559.13,13.77 559.70,17.18 560.10,21.40 C560.50,25.62 560.95,30.68 561.30,36.00 C561.65,41.32 561.92,46.87 562.20,53.30 C562.48,59.73 562.68,67.73 563.00,74.60 C563.32,81.47 563.78,88.92 564.10,94.50 C564.42,100.08 564.65,103.65 564.90,108.10 C565.15,112.55 565.35,117.48 565.60,121.20 C565.85,124.92 566.15,127.43 566.40,130.40 C566.65,133.37 566.87,135.57 567.10,139.00 C567.33,142.43 567.62,147.48 567.80,151.00 C567.98,154.52 568.03,157.10 568.20,160.10 C568.37,163.10 568.58,165.52 568.80,169.00 C569.02,172.48 569.22,177.42 569.50,181.00 C569.78,184.58 570.18,187.67 570.50,190.50 C570.82,193.33 571.15,195.83 571.40,198.00 C571.65,200.17 571.78,202.05 572.00,203.50 C572.22,204.95 572.47,206.45 572.70,206.70 C572.93,206.95 573.18,206.27 573.40,205.00 C573.62,203.73 573.78,201.40 574.00,199.10 C574.22,196.80 574.47,193.72 574.70,191.20 C574.93,188.68 575.18,186.37 575.40,184.00 C575.62,181.63 575.82,179.33 576.00,177.00 C576.18,174.67 576.32,172.83 576.50,170.00 C576.68,167.17 576.87,163.33 577.10,160.00 C577.33,156.67 577.63,152.83 577.90,150.00 C578.17,147.17 578.43,145.47 578.70,143.00 C578.97,140.53 579.23,137.53 579.50,135.20 C579.77,132.87 579.95,131.55 580.30,129.00 C580.65,126.45 581.17,122.98 581.60,119.90 C582.03,116.82 582.53,113.32 582.90,110.50 C583.27,107.68 583.50,105.58 583.80,103.00 C584.10,100.42 584.38,97.83 584.70,95.00 C585.02,92.17 585.35,88.67 585.70,86.00 C586.05,83.33 586.35,81.45 586.80,79.00 C587.25,76.55 587.82,73.88 588.40,71.30 C588.98,68.72 589.62,65.97 590.30,63.50 C590.98,61.03 591.72,58.37 592.50,56.50 C593.28,54.63 594.17,53.45 595.00,52.30 C595.83,51.15 596.75,50.12 597.50,49.60 C598.25,49.08 598.87,49.05 599.50,49.20 C600.13,49.35 600.77,49.78 601.30,50.50 C601.83,51.22 602.27,52.28 602.70,53.50 C603.13,54.72 603.57,56.38 603.90,57.80 C604.23,59.22 604.43,60.60 604.70,62.00 C604.97,63.40 605.25,64.80 605.50,66.20 C605.75,67.60 605.88,68.42 606.20,70.40 C606.52,72.38 606.98,75.50 607.40,78.10 C607.82,80.70 608.35,83.52 608.70,86.00 C609.05,88.48 609.25,90.58 609.50,93.00 C609.75,95.42 609.97,98.17 610.20,100.50 C610.43,102.83 610.63,104.25 610.90,107.00 C611.17,109.75 611.43,113.80 611.80,117.00 C612.17,120.20 612.67,123.20 613.10,126.20 C613.53,129.20 613.98,132.65 614.40,135.00 C614.82,137.35 615.17,138.88 615.60,140.30 C616.03,141.72 616.55,143.17 617.00,143.50 C617.45,143.83 617.92,143.22 618.30,142.30 C618.68,141.38 618.98,140.05 619.30,138.00 C619.62,135.95 619.92,132.83 620.20,130.00 C620.48,127.17 620.70,124.17 621.00,121.00 C621.30,117.83 621.68,114.33 622.00,111.00 C622.32,107.67 622.57,104.83 622.90,101.00 C623.23,97.17 623.62,92.17 624.00,88.00 C624.38,83.83 624.83,79.50 625.20,76.00 C625.57,72.50 625.83,70.08 626.20,67.00 C626.57,63.92 626.97,60.67 627.40,57.50 C627.83,54.33 628.28,51.25 628.80,48.00 C629.32,44.75 629.87,41.33 630.50,38.00 C631.13,34.67 632.05,31.33 632.60,28.00 C633.15,24.67 633.43,20.92 633.80,18.00 C634.17,15.08 634.57,13.00 634.80,10.50 C635.03,8.00 635.13,4.25 635.20,3.00" stroke="#00ee00" stroke-width="2" stroke-dasharray="9.5 5.2 3.2 5.2 3.2 6.2" stroke-dashoffset="30.27"/><path d="M654.80,3.00 C654.83,4.25 654.88,6.83 655.00,10.50 C655.12,14.17 655.30,19.25 655.50,25.00 C655.70,30.75 656.00,39.17 656.20,45.00 C656.40,50.83 656.52,55.50 656.70,60.00 C656.88,64.50 657.05,68.07 657.30,72.00 C657.55,75.93 657.93,80.35 658.20,83.60 C658.47,86.85 658.70,88.77 658.90,91.50 C659.10,94.23 659.25,97.25 659.40,100.00 C659.55,102.75 659.63,105.53 659.80,108.00 C659.97,110.47 660.15,114.05 660.40,114.80 C660.65,115.55 661.05,113.80 661.30,112.50 C661.55,111.20 661.72,109.42 661.90,107.00 C662.08,104.58 662.23,101.50 662.40,98.00 C662.57,94.50 662.72,90.33 662.90,86.00 C663.08,81.67 663.32,76.33 663.50,72.00 C663.68,67.67 663.82,64.60 664.00,60.00 C664.18,55.40 664.40,49.40 664.60,44.40 C664.80,39.40 665.02,34.60 665.20,30.00 C665.38,25.40 665.57,20.05 665.70,16.80 C665.83,13.55 665.92,12.80 666.00,10.50 C666.08,8.20 666.17,4.25 666.20,3.00" stroke="#00ee00" stroke-width="2" stroke-dasharray="9.5 5.2 3.2 5.2 3.2 6.2" stroke-dashoffset="32.30"/></g>
<line x1="57.65" y1="238.5" x2="57.65" y2="236.3" class="tk"/>
<line x1="57.65" y1="6.45" x2="57.65" y2="8.65" class="tk"/>
<line x1="67.30" y1="238.5" x2="67.30" y2="236.3" class="tk"/>
<line x1="67.30" y1="6.45" x2="67.30" y2="8.65" class="tk"/>
<line x1="76.95" y1="238.5" x2="76.95" y2="236.3" class="tk"/>
<line x1="76.95" y1="6.45" x2="76.95" y2="8.65" class="tk"/>
<line x1="86.60" y1="238.5" x2="86.60" y2="236.3" class="tk"/>
<line x1="86.60" y1="6.45" x2="86.60" y2="8.65" class="tk"/>
<line x1="105.90" y1="238.5" x2="105.90" y2="236.3" class="tk"/>
<line x1="105.90" y1="6.45" x2="105.90" y2="8.65" class="tk"/>
<line x1="115.55" y1="238.5" x2="115.55" y2="236.3" class="tk"/>
<line x1="115.55" y1="6.45" x2="115.55" y2="8.65" class="tk"/>
<line x1="125.20" y1="238.5" x2="125.20" y2="236.3" class="tk"/>
<line x1="125.20" y1="6.45" x2="125.20" y2="8.65" class="tk"/>
<line x1="134.85" y1="238.5" x2="134.85" y2="236.3" class="tk"/>
<line x1="134.85" y1="6.45" x2="134.85" y2="8.65" class="tk"/>
<line x1="154.15" y1="238.5" x2="154.15" y2="236.3" class="tk"/>
<line x1="154.15" y1="6.45" x2="154.15" y2="8.65" class="tk"/>
<line x1="163.80" y1="238.5" x2="163.80" y2="236.3" class="tk"/>
<line x1="163.80" y1="6.45" x2="163.80" y2="8.65" class="tk"/>
<line x1="173.45" y1="238.5" x2="173.45" y2="236.3" class="tk"/>
<line x1="173.45" y1="6.45" x2="173.45" y2="8.65" class="tk"/>
<line x1="183.10" y1="238.5" x2="183.10" y2="236.3" class="tk"/>
<line x1="183.10" y1="6.45" x2="183.10" y2="8.65" class="tk"/>
<line x1="202.40" y1="238.5" x2="202.40" y2="236.3" class="tk"/>
<line x1="202.40" y1="6.45" x2="202.40" y2="8.65" class="tk"/>
<line x1="212.05" y1="238.5" x2="212.05" y2="236.3" class="tk"/>
<line x1="212.05" y1="6.45" x2="212.05" y2="8.65" class="tk"/>
<line x1="221.70" y1="238.5" x2="221.70" y2="236.3" class="tk"/>
<line x1="221.70" y1="6.45" x2="221.70" y2="8.65" class="tk"/>
<line x1="231.35" y1="238.5" x2="231.35" y2="236.3" class="tk"/>
<line x1="231.35" y1="6.45" x2="231.35" y2="8.65" class="tk"/>
<line x1="250.65" y1="238.5" x2="250.65" y2="236.3" class="tk"/>
<line x1="250.65" y1="6.45" x2="250.65" y2="8.65" class="tk"/>
<line x1="260.30" y1="238.5" x2="260.30" y2="236.3" class="tk"/>
<line x1="260.30" y1="6.45" x2="260.30" y2="8.65" class="tk"/>
<line x1="269.95" y1="238.5" x2="269.95" y2="236.3" class="tk"/>
<line x1="269.95" y1="6.45" x2="269.95" y2="8.65" class="tk"/>
<line x1="279.60" y1="238.5" x2="279.60" y2="236.3" class="tk"/>
<line x1="279.60" y1="6.45" x2="279.60" y2="8.65" class="tk"/>
<line x1="298.90" y1="238.5" x2="298.90" y2="236.3" class="tk"/>
<line x1="298.90" y1="6.45" x2="298.90" y2="8.65" class="tk"/>
<line x1="308.55" y1="238.5" x2="308.55" y2="236.3" class="tk"/>
<line x1="308.55" y1="6.45" x2="308.55" y2="8.65" class="tk"/>
<line x1="318.20" y1="238.5" x2="318.20" y2="236.3" class="tk"/>
<line x1="318.20" y1="6.45" x2="318.20" y2="8.65" class="tk"/>
<line x1="327.85" y1="238.5" x2="327.85" y2="236.3" class="tk"/>
<line x1="327.85" y1="6.45" x2="327.85" y2="8.65" class="tk"/>
<line x1="48.00" y1="238.5" x2="48.00" y2="234.0" class="tk"/>
<line x1="48.00" y1="6.45" x2="48.00" y2="10.95" class="tk"/>
<line x1="96.25" y1="238.5" x2="96.25" y2="234.0" class="tk"/>
<line x1="96.25" y1="6.45" x2="96.25" y2="10.95" class="tk"/>
<line x1="144.50" y1="238.5" x2="144.50" y2="234.0" class="tk"/>
<line x1="144.50" y1="6.45" x2="144.50" y2="10.95" class="tk"/>
<line x1="192.75" y1="238.5" x2="192.75" y2="234.0" class="tk"/>
<line x1="192.75" y1="6.45" x2="192.75" y2="10.95" class="tk"/>
<line x1="241.00" y1="238.5" x2="241.00" y2="234.0" class="tk"/>
<line x1="241.00" y1="6.45" x2="241.00" y2="10.95" class="tk"/>
<line x1="289.25" y1="238.5" x2="289.25" y2="234.0" class="tk"/>
<line x1="289.25" y1="6.45" x2="289.25" y2="10.95" class="tk"/>
<line x1="337.50" y1="238.5" x2="337.50" y2="234.0" class="tk"/>
<line x1="337.50" y1="6.45" x2="337.50" y2="10.95" class="tk"/>
<line x1="48.0" y1="22.64" x2="50.2" y2="22.64" class="tk"/>
<line x1="337.5" y1="22.64" x2="335.3" y2="22.64" class="tk"/>
<line x1="48.0" y1="56.03" x2="50.2" y2="56.03" class="tk"/>
<line x1="337.5" y1="56.03" x2="335.3" y2="56.03" class="tk"/>
<line x1="48.0" y1="89.41" x2="50.2" y2="89.41" class="tk"/>
<line x1="337.5" y1="89.41" x2="335.3" y2="89.41" class="tk"/>
<line x1="48.0" y1="122.80" x2="50.2" y2="122.80" class="tk"/>
<line x1="337.5" y1="122.80" x2="335.3" y2="122.80" class="tk"/>
<line x1="48.0" y1="156.18" x2="50.2" y2="156.18" class="tk"/>
<line x1="337.5" y1="156.18" x2="335.3" y2="156.18" class="tk"/>
<line x1="48.0" y1="189.57" x2="50.2" y2="189.57" class="tk"/>
<line x1="337.5" y1="189.57" x2="335.3" y2="189.57" class="tk"/>
<line x1="48.0" y1="222.95" x2="50.2" y2="222.95" class="tk"/>
<line x1="337.5" y1="222.95" x2="335.3" y2="222.95" class="tk"/>
<line x1="48.0" y1="5.95" x2="52.5" y2="5.95" class="tk"/>
<line x1="337.5" y1="5.95" x2="333.0" y2="5.95" class="tk"/>
<line x1="48.0" y1="39.34" x2="52.5" y2="39.34" class="tk"/>
<line x1="337.5" y1="39.34" x2="333.0" y2="39.34" class="tk"/>
<line x1="48.0" y1="72.72" x2="52.5" y2="72.72" class="tk"/>
<line x1="337.5" y1="72.72" x2="333.0" y2="72.72" class="tk"/>
<line x1="48.0" y1="106.11" x2="52.5" y2="106.11" class="tk"/>
<line x1="337.5" y1="106.11" x2="333.0" y2="106.11" class="tk"/>
<line x1="48.0" y1="139.49" x2="52.5" y2="139.49" class="tk"/>
<line x1="337.5" y1="139.49" x2="333.0" y2="139.49" class="tk"/>
<line x1="48.0" y1="172.87" x2="52.5" y2="172.87" class="tk"/>
<line x1="337.5" y1="172.87" x2="333.0" y2="172.87" class="tk"/>
<line x1="48.0" y1="206.26" x2="52.5" y2="206.26" class="tk"/>
<line x1="337.5" y1="206.26" x2="333.0" y2="206.26" class="tk"/>
<line x1="48.0" y1="239.64" x2="52.5" y2="239.64" class="tk"/>
<line x1="337.5" y1="239.64" x2="333.0" y2="239.64" class="tk"/>
<rect x="48.0" y="6.45" width="289.50" height="232.05" class="ax"/>
<text x="48.00" y="256.00" text-anchor="middle" font-size="15.3" font-weight="normal" >0.5</text>
<text x="96.25" y="256.00" text-anchor="middle" font-size="15.3" font-weight="normal" >1.0</text>
<text x="144.50" y="256.00" text-anchor="middle" font-size="15.3" font-weight="normal" >1.5</text>
<text x="192.75" y="256.00" text-anchor="middle" font-size="15.3" font-weight="normal" >2.0</text>
<text x="241.00" y="256.00" text-anchor="middle" font-size="15.3" font-weight="normal" >2.5</text>
<text x="289.25" y="256.00" text-anchor="middle" font-size="15.3" font-weight="normal" >3.0</text>
<text x="337.50" y="256.00" text-anchor="middle" font-size="15.3" font-weight="normal" >3.5</text>
<text x="43.00" y="11.15" text-anchor="end" font-size="15.3" font-weight="normal" >0</text>
<text x="43.00" y="44.54" text-anchor="end" font-size="15.3" font-weight="normal" >-5</text>
<text x="43.00" y="77.92" text-anchor="end" font-size="15.3" font-weight="normal" >-10</text>
<text x="43.00" y="111.31" text-anchor="end" font-size="15.3" font-weight="normal" >-15</text>
<text x="43.00" y="144.69" text-anchor="end" font-size="15.3" font-weight="normal" >-20</text>
<text x="43.00" y="178.07" text-anchor="end" font-size="15.3" font-weight="normal" >-25</text>
<text x="43.00" y="211.46" text-anchor="end" font-size="15.3" font-weight="normal" >-30</text>
<text x="187.50" y="274.20" text-anchor="middle" font-size="15.3" font-weight="normal" >Frequency (GHz)</text>
<text x="196.20" y="300.30" text-anchor="middle" font-size="18" font-weight="bold" >(a)</text>
<text transform="translate(12.8,118) rotate(-90)" text-anchor="middle" font-size="15.3" font-weight="bold">|S<tspan font-size="10" dy="3">11</tspan><tspan dy="-3">|(dB)</tspan></text>
<line x1="55.2" y1="175.3" x2="91.2" y2="175.3" stroke="#3a3a3a" stroke-width="1.3" stroke-dasharray="7 5 1.5 5 1.5 4.6"/>
<text x="94.20" y="180.30" text-anchor="start" font-size="15.3" font-weight="normal" >skin-mimicking gel</text>
<line x1="55.2" y1="194.0" x2="91.2" y2="194.0" stroke="#f04545" stroke-width="1.25" stroke-dasharray="10 4.3 1.5 4.3"/>
<text x="94.20" y="199.40" text-anchor="start" font-size="15.3" font-weight="normal" >minced pork</text>
<line x1="55.2" y1="213.2" x2="91.2" y2="213.2" stroke="#00f000" stroke-width="1.6" stroke-dasharray="8 8.2"/>
<text x="94.20" y="217.70" text-anchor="start" font-size="15.3" font-weight="normal" >Simulation</text>
<text x="53.00" y="130.50" text-anchor="start" font-size="15.3" font-weight="normal" >0.815</text>
<line x1="71.40" y1="118.00" x2="74.87" y2="77.58" stroke="#111" stroke-width="0.9"/>
<path d="M75.30,72.60 L76.88,78.76 L72.69,78.40 Z" fill="#000"/>
<text x="112.60" y="100.20" text-anchor="start" font-size="15.3" font-weight="normal" >1.09</text>
<line x1="125.20" y1="87.00" x2="101.26" y2="74.86" stroke="#111" stroke-width="0.9"/>
<path d="M96.80,72.60 L103.10,73.44 L101.20,77.19 Z" fill="#000"/>
<text x="174.40" y="109.70" text-anchor="start" font-size="15.3" font-weight="normal" >2.27</text>
<line x1="195.50" y1="99.30" x2="215.27" y2="77.13" stroke="#111" stroke-width="0.9"/>
<path d="M218.60,73.40 L216.17,79.28 L213.04,76.48 Z" fill="#000"/>
<text x="235.60" y="39.40" text-anchor="start" font-size="15.3" font-weight="normal" >2.855</text>
<line x1="255.00" y1="39.60" x2="273.61" y2="68.69" stroke="#111" stroke-width="0.9"/>
<path d="M276.30,72.90 L271.30,68.98 L274.84,66.71 Z" fill="#000"/>
<line x1="401.48" y1="239.5" x2="401.48" y2="237.3" class="tk"/>
<line x1="401.48" y1="10.1" x2="401.48" y2="12.3" class="tk"/>
<line x1="410.97" y1="239.5" x2="410.97" y2="237.3" class="tk"/>
<line x1="410.97" y1="10.1" x2="410.97" y2="12.3" class="tk"/>
<line x1="420.45" y1="239.5" x2="420.45" y2="237.3" class="tk"/>
<line x1="420.45" y1="10.1" x2="420.45" y2="12.3" class="tk"/>
<line x1="429.93" y1="239.5" x2="429.93" y2="237.3" class="tk"/>
<line x1="429.93" y1="10.1" x2="429.93" y2="12.3" class="tk"/>
<line x1="448.90" y1="239.5" x2="448.90" y2="237.3" class="tk"/>
<line x1="448.90" y1="10.1" x2="448.90" y2="12.3" class="tk"/>
<line x1="458.38" y1="239.5" x2="458.38" y2="237.3" class="tk"/>
<line x1="458.38" y1="10.1" x2="458.38" y2="12.3" class="tk"/>
<line x1="467.87" y1="239.5" x2="467.87" y2="237.3" class="tk"/>
<line x1="467.87" y1="10.1" x2="467.87" y2="12.3" class="tk"/>
<line x1="477.35" y1="239.5" x2="477.35" y2="237.3" class="tk"/>
<line x1="477.35" y1="10.1" x2="477.35" y2="12.3" class="tk"/>
<line x1="496.32" y1="239.5" x2="496.32" y2="237.3" class="tk"/>
<line x1="496.32" y1="10.1" x2="496.32" y2="12.3" class="tk"/>
<line x1="505.80" y1="239.5" x2="505.80" y2="237.3" class="tk"/>
<line x1="505.80" y1="10.1" x2="505.80" y2="12.3" class="tk"/>
<line x1="515.28" y1="239.5" x2="515.28" y2="237.3" class="tk"/>
<line x1="515.28" y1="10.1" x2="515.28" y2="12.3" class="tk"/>
<line x1="524.77" y1="239.5" x2="524.77" y2="237.3" class="tk"/>
<line x1="524.77" y1="10.1" x2="524.77" y2="12.3" class="tk"/>
<line x1="543.73" y1="239.5" x2="543.73" y2="237.3" class="tk"/>
<line x1="543.73" y1="10.1" x2="543.73" y2="12.3" class="tk"/>
<line x1="553.22" y1="239.5" x2="553.22" y2="237.3" class="tk"/>
<line x1="553.22" y1="10.1" x2="553.22" y2="12.3" class="tk"/>
<line x1="562.70" y1="239.5" x2="562.70" y2="237.3" class="tk"/>
<line x1="562.70" y1="10.1" x2="562.70" y2="12.3" class="tk"/>
<line x1="572.18" y1="239.5" x2="572.18" y2="237.3" class="tk"/>
<line x1="572.18" y1="10.1" x2="572.18" y2="12.3" class="tk"/>
<line x1="591.15" y1="239.5" x2="591.15" y2="237.3" class="tk"/>
<line x1="591.15" y1="10.1" x2="591.15" y2="12.3" class="tk"/>
<line x1="600.63" y1="239.5" x2="600.63" y2="237.3" class="tk"/>
<line x1="600.63" y1="10.1" x2="600.63" y2="12.3" class="tk"/>
<line x1="610.12" y1="239.5" x2="610.12" y2="237.3" class="tk"/>
<line x1="610.12" y1="10.1" x2="610.12" y2="12.3" class="tk"/>
<line x1="619.60" y1="239.5" x2="619.60" y2="237.3" class="tk"/>
<line x1="619.60" y1="10.1" x2="619.60" y2="12.3" class="tk"/>
<line x1="638.57" y1="239.5" x2="638.57" y2="237.3" class="tk"/>
<line x1="638.57" y1="10.1" x2="638.57" y2="12.3" class="tk"/>
<line x1="648.05" y1="239.5" x2="648.05" y2="237.3" class="tk"/>
<line x1="648.05" y1="10.1" x2="648.05" y2="12.3" class="tk"/>
<line x1="657.53" y1="239.5" x2="657.53" y2="237.3" class="tk"/>
<line x1="657.53" y1="10.1" x2="657.53" y2="12.3" class="tk"/>
<line x1="667.02" y1="239.5" x2="667.02" y2="237.3" class="tk"/>
<line x1="667.02" y1="10.1" x2="667.02" y2="12.3" class="tk"/>
<line x1="392.00" y1="239.5" x2="392.00" y2="235.0" class="tk"/>
<line x1="392.00" y1="10.1" x2="392.00" y2="14.6" class="tk"/>
<line x1="439.42" y1="239.5" x2="439.42" y2="235.0" class="tk"/>
<line x1="439.42" y1="10.1" x2="439.42" y2="14.6" class="tk"/>
<line x1="486.83" y1="239.5" x2="486.83" y2="235.0" class="tk"/>
<line x1="486.83" y1="10.1" x2="486.83" y2="14.6" class="tk"/>
<line x1="534.25" y1="239.5" x2="534.25" y2="235.0" class="tk"/>
<line x1="534.25" y1="10.1" x2="534.25" y2="14.6" class="tk"/>
<line x1="581.67" y1="239.5" x2="581.67" y2="235.0" class="tk"/>
<line x1="581.67" y1="10.1" x2="581.67" y2="14.6" class="tk"/>
<line x1="629.08" y1="239.5" x2="629.08" y2="235.0" class="tk"/>
<line x1="629.08" y1="10.1" x2="629.08" y2="14.6" class="tk"/>
<line x1="676.50" y1="239.5" x2="676.50" y2="235.0" class="tk"/>
<line x1="676.50" y1="10.1" x2="676.50" y2="14.6" class="tk"/>
<line x1="392.0" y1="220.38" x2="394.2" y2="220.38" class="tk"/>
<line x1="676.5" y1="220.38" x2="674.3" y2="220.38" class="tk"/>
<line x1="392.0" y1="182.16" x2="394.2" y2="182.16" class="tk"/>
<line x1="676.5" y1="182.16" x2="674.3" y2="182.16" class="tk"/>
<line x1="392.0" y1="143.93" x2="394.2" y2="143.93" class="tk"/>
<line x1="676.5" y1="143.93" x2="674.3" y2="143.93" class="tk"/>
<line x1="392.0" y1="105.70" x2="394.2" y2="105.70" class="tk"/>
<line x1="676.5" y1="105.70" x2="674.3" y2="105.70" class="tk"/>
<line x1="392.0" y1="67.47" x2="394.2" y2="67.47" class="tk"/>
<line x1="676.5" y1="67.47" x2="674.3" y2="67.47" class="tk"/>
<line x1="392.0" y1="29.24" x2="394.2" y2="29.24" class="tk"/>
<line x1="676.5" y1="29.24" x2="674.3" y2="29.24" class="tk"/>
<line x1="392.0" y1="239.50" x2="396.5" y2="239.50" class="tk"/>
<line x1="676.5" y1="239.50" x2="672.0" y2="239.50" class="tk"/>
<line x1="392.0" y1="201.27" x2="396.5" y2="201.27" class="tk"/>
<line x1="676.5" y1="201.27" x2="672.0" y2="201.27" class="tk"/>
<line x1="392.0" y1="163.04" x2="396.5" y2="163.04" class="tk"/>
<line x1="676.5" y1="163.04" x2="672.0" y2="163.04" class="tk"/>
<line x1="392.0" y1="124.81" x2="396.5" y2="124.81" class="tk"/>
<line x1="676.5" y1="124.81" x2="672.0" y2="124.81" class="tk"/>
<line x1="392.0" y1="86.58" x2="396.5" y2="86.58" class="tk"/>
<line x1="676.5" y1="86.58" x2="672.0" y2="86.58" class="tk"/>
<line x1="392.0" y1="48.35" x2="396.5" y2="48.35" class="tk"/>
<line x1="676.5" y1="48.35" x2="672.0" y2="48.35" class="tk"/>
<line x1="392.0" y1="10.12" x2="396.5" y2="10.12" class="tk"/>
<line x1="676.5" y1="10.12" x2="672.0" y2="10.12" class="tk"/>
<rect x="392.0" y="10.1" width="284.50" height="229.40" class="ax"/>
<text x="392.00" y="256.50" text-anchor="middle" font-size="15.1" font-weight="normal" >0.5</text>
<text x="439.42" y="256.50" text-anchor="middle" font-size="15.1" font-weight="normal" >1.0</text>
<text x="486.83" y="256.50" text-anchor="middle" font-size="15.1" font-weight="normal" >1.5</text>
<text x="534.25" y="256.50" text-anchor="middle" font-size="15.1" font-weight="normal" >2.0</text>
<text x="581.67" y="256.50" text-anchor="middle" font-size="15.1" font-weight="normal" >2.5</text>
<text x="629.08" y="256.50" text-anchor="middle" font-size="15.1" font-weight="normal" >3.0</text>
<text x="676.50" y="256.50" text-anchor="middle" font-size="15.1" font-weight="normal" >3.5</text>
<text x="387.00" y="206.47" text-anchor="end" font-size="15.1" font-weight="normal" >1</text>
<text x="387.00" y="168.24" text-anchor="end" font-size="15.1" font-weight="normal" >2</text>
<text x="387.00" y="130.01" text-anchor="end" font-size="15.1" font-weight="normal" >3</text>
<text x="387.00" y="91.78" text-anchor="end" font-size="15.1" font-weight="normal" >4</text>
<text x="387.00" y="53.55" text-anchor="end" font-size="15.1" font-weight="normal" >5</text>
<text x="387.00" y="15.32" text-anchor="end" font-size="15.1" font-weight="normal" >6</text>
<text x="529.50" y="274.60" text-anchor="middle" font-size="15.1" font-weight="normal" >Frequency (GHz)</text>
<text x="535.00" y="300.30" text-anchor="middle" font-size="18" font-weight="bold" >(b)</text>
<line x1="402.2" y1="193.5" x2="437.6" y2="193.5" stroke="#000" stroke-width="2" stroke-dasharray="none"/>
<text x="440.80" y="199.10" text-anchor="start" font-size="15.1" font-weight="normal" >skin-mimicking gel</text>
<line x1="402.2" y1="212.6" x2="437.6" y2="212.6" stroke="#f04040" stroke-width="2" stroke-dasharray="10 11.7"/>
<text x="440.80" y="217.40" text-anchor="start" font-size="15.1" font-weight="normal" >minced pork</text>
<line x1="402.2" y1="231.3" x2="437.6" y2="231.3" stroke="#00ee00" stroke-width="2" stroke-dasharray="10 5.1 3.6 5.1 3.6 5.1"/>
<text x="440.80" y="235.50" text-anchor="start" font-size="15.1" font-weight="normal" >Simulation</text>
<text x="515.80" y="102.70" text-anchor="start" font-size="15.1" font-weight="normal" >2.31</text>
<line x1="529.90" y1="104.70" x2="558.51" y2="121.83" stroke="#111" stroke-width="0.9"/>
<path d="M562.80,124.40 L556.57,123.12 L558.73,119.52 Z" fill="#000"/>
<text x="393.50" y="186.20" text-anchor="start" font-size="15.1" font-weight="normal" >0.87</text>
<line x1="410.70" y1="170.40" x2="423.58" y2="130.06" stroke="#111" stroke-width="0.9"/>
<path d="M425.10,125.30 L425.28,131.65 L421.27,130.38 Z" fill="#000"/>
<text x="456.00" y="150.10" text-anchor="start" font-size="15.1" font-weight="normal" >1.11</text>
<line x1="463.60" y1="136.40" x2="453.74" y2="128.20" stroke="#111" stroke-width="0.9"/>
<path d="M449.90,125.00 L455.86,127.22 L453.17,130.45 Z" fill="#000"/>
<text x="597.70" y="211.00" text-anchor="start" font-size="15.1" font-weight="normal" >2.54</text>
<line x1="607.10" y1="196.20" x2="588.66" y2="131.11" stroke="#111" stroke-width="0.9"/>
<path d="M587.30,126.30 L590.96,131.50 L586.91,132.65 Z" fill="#000"/>
<text transform="translate(372.2,117.1) rotate(-90)" text-anchor="middle" font-size="15.3">Axial Ratio (dB)</text>
</svg></body></html>
